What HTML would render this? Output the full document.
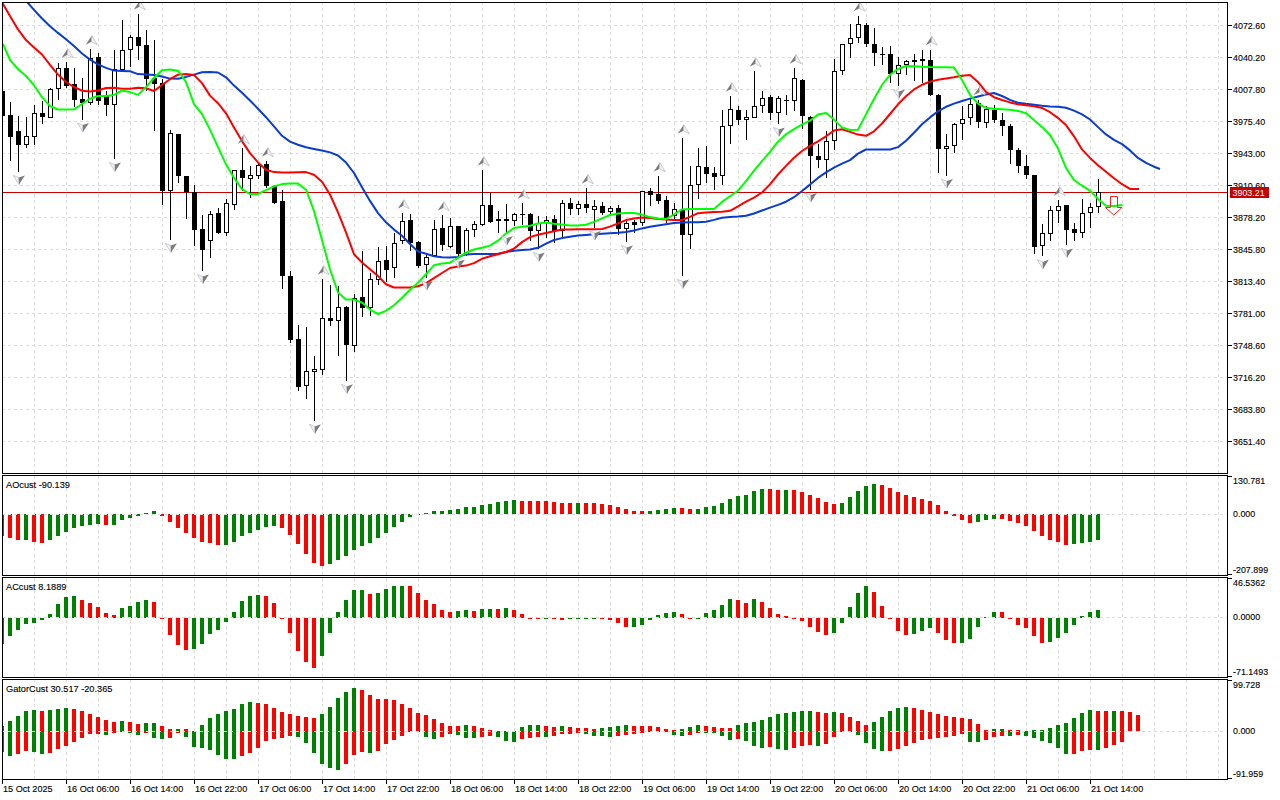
<!DOCTYPE html><html><head><meta charset="utf-8"><title>ETHUSD H1 chart</title>
<style>html,body{margin:0;padding:0;background:#fff;overflow:hidden}svg{display:block}</style></head><body>
<svg width="1280" height="800" viewBox="0 0 1280 800" shape-rendering="crispEdges">
<rect x="0" y="0" width="1280" height="800" fill="#fff"/>
<defs>
<clipPath id="cm"><rect x="3" y="3" width="1224" height="470"/></clipPath>
<clipPath id="c1"><rect x="3" y="476" width="1224" height="99"/></clipPath>
<clipPath id="c2"><rect x="3" y="578" width="1224" height="99"/></clipPath>
<clipPath id="c3"><rect x="3" y="680" width="1224" height="99"/></clipPath>
</defs>
<g stroke="#dcdcdc" stroke-width="1" stroke-dasharray="3 3" fill="none"><path d="M34.5 3V473" stroke-dashoffset="1"/><path d="M34.5 476V575" stroke-dashoffset="0"/><path d="M34.5 578V677" stroke-dashoffset="0"/><path d="M34.5 680V779" stroke-dashoffset="0"/><path d="M66.5 3V473" stroke-dashoffset="1"/><path d="M66.5 476V575" stroke-dashoffset="0"/><path d="M66.5 578V677" stroke-dashoffset="0"/><path d="M66.5 680V779" stroke-dashoffset="0"/><path d="M98.5 3V473" stroke-dashoffset="1"/><path d="M98.5 476V575" stroke-dashoffset="0"/><path d="M98.5 578V677" stroke-dashoffset="0"/><path d="M98.5 680V779" stroke-dashoffset="0"/><path d="M130.5 3V473" stroke-dashoffset="1"/><path d="M130.5 476V575" stroke-dashoffset="0"/><path d="M130.5 578V677" stroke-dashoffset="0"/><path d="M130.5 680V779" stroke-dashoffset="0"/><path d="M162.5 3V473" stroke-dashoffset="1"/><path d="M162.5 476V575" stroke-dashoffset="0"/><path d="M162.5 578V677" stroke-dashoffset="0"/><path d="M162.5 680V779" stroke-dashoffset="0"/><path d="M194.5 3V473" stroke-dashoffset="1"/><path d="M194.5 476V575" stroke-dashoffset="0"/><path d="M194.5 578V677" stroke-dashoffset="0"/><path d="M194.5 680V779" stroke-dashoffset="0"/><path d="M226.5 3V473" stroke-dashoffset="1"/><path d="M226.5 476V575" stroke-dashoffset="0"/><path d="M226.5 578V677" stroke-dashoffset="0"/><path d="M226.5 680V779" stroke-dashoffset="0"/><path d="M258.5 3V473" stroke-dashoffset="1"/><path d="M258.5 476V575" stroke-dashoffset="0"/><path d="M258.5 578V677" stroke-dashoffset="0"/><path d="M258.5 680V779" stroke-dashoffset="0"/><path d="M290.5 3V473" stroke-dashoffset="1"/><path d="M290.5 476V575" stroke-dashoffset="0"/><path d="M290.5 578V677" stroke-dashoffset="0"/><path d="M290.5 680V779" stroke-dashoffset="0"/><path d="M322.5 3V473" stroke-dashoffset="1"/><path d="M322.5 476V575" stroke-dashoffset="0"/><path d="M322.5 578V677" stroke-dashoffset="0"/><path d="M322.5 680V779" stroke-dashoffset="0"/><path d="M354.5 3V473" stroke-dashoffset="1"/><path d="M354.5 476V575" stroke-dashoffset="0"/><path d="M354.5 578V677" stroke-dashoffset="0"/><path d="M354.5 680V779" stroke-dashoffset="0"/><path d="M386.5 3V473" stroke-dashoffset="1"/><path d="M386.5 476V575" stroke-dashoffset="0"/><path d="M386.5 578V677" stroke-dashoffset="0"/><path d="M386.5 680V779" stroke-dashoffset="0"/><path d="M418.5 3V473" stroke-dashoffset="1"/><path d="M418.5 476V575" stroke-dashoffset="0"/><path d="M418.5 578V677" stroke-dashoffset="0"/><path d="M418.5 680V779" stroke-dashoffset="0"/><path d="M450.5 3V473" stroke-dashoffset="1"/><path d="M450.5 476V575" stroke-dashoffset="0"/><path d="M450.5 578V677" stroke-dashoffset="0"/><path d="M450.5 680V779" stroke-dashoffset="0"/><path d="M482.5 3V473" stroke-dashoffset="1"/><path d="M482.5 476V575" stroke-dashoffset="0"/><path d="M482.5 578V677" stroke-dashoffset="0"/><path d="M482.5 680V779" stroke-dashoffset="0"/><path d="M514.5 3V473" stroke-dashoffset="1"/><path d="M514.5 476V575" stroke-dashoffset="0"/><path d="M514.5 578V677" stroke-dashoffset="0"/><path d="M514.5 680V779" stroke-dashoffset="0"/><path d="M546.5 3V473" stroke-dashoffset="1"/><path d="M546.5 476V575" stroke-dashoffset="0"/><path d="M546.5 578V677" stroke-dashoffset="0"/><path d="M546.5 680V779" stroke-dashoffset="0"/><path d="M578.5 3V473" stroke-dashoffset="1"/><path d="M578.5 476V575" stroke-dashoffset="0"/><path d="M578.5 578V677" stroke-dashoffset="0"/><path d="M578.5 680V779" stroke-dashoffset="0"/><path d="M610.5 3V473" stroke-dashoffset="1"/><path d="M610.5 476V575" stroke-dashoffset="0"/><path d="M610.5 578V677" stroke-dashoffset="0"/><path d="M610.5 680V779" stroke-dashoffset="0"/><path d="M642.5 3V473" stroke-dashoffset="1"/><path d="M642.5 476V575" stroke-dashoffset="0"/><path d="M642.5 578V677" stroke-dashoffset="0"/><path d="M642.5 680V779" stroke-dashoffset="0"/><path d="M674.5 3V473" stroke-dashoffset="1"/><path d="M674.5 476V575" stroke-dashoffset="0"/><path d="M674.5 578V677" stroke-dashoffset="0"/><path d="M674.5 680V779" stroke-dashoffset="0"/><path d="M706.5 3V473" stroke-dashoffset="1"/><path d="M706.5 476V575" stroke-dashoffset="0"/><path d="M706.5 578V677" stroke-dashoffset="0"/><path d="M706.5 680V779" stroke-dashoffset="0"/><path d="M738.5 3V473" stroke-dashoffset="1"/><path d="M738.5 476V575" stroke-dashoffset="0"/><path d="M738.5 578V677" stroke-dashoffset="0"/><path d="M738.5 680V779" stroke-dashoffset="0"/><path d="M770.5 3V473" stroke-dashoffset="1"/><path d="M770.5 476V575" stroke-dashoffset="0"/><path d="M770.5 578V677" stroke-dashoffset="0"/><path d="M770.5 680V779" stroke-dashoffset="0"/><path d="M802.5 3V473" stroke-dashoffset="1"/><path d="M802.5 476V575" stroke-dashoffset="0"/><path d="M802.5 578V677" stroke-dashoffset="0"/><path d="M802.5 680V779" stroke-dashoffset="0"/><path d="M834.5 3V473" stroke-dashoffset="1"/><path d="M834.5 476V575" stroke-dashoffset="0"/><path d="M834.5 578V677" stroke-dashoffset="0"/><path d="M834.5 680V779" stroke-dashoffset="0"/><path d="M866.5 3V473" stroke-dashoffset="1"/><path d="M866.5 476V575" stroke-dashoffset="0"/><path d="M866.5 578V677" stroke-dashoffset="0"/><path d="M866.5 680V779" stroke-dashoffset="0"/><path d="M898.5 3V473" stroke-dashoffset="1"/><path d="M898.5 476V575" stroke-dashoffset="0"/><path d="M898.5 578V677" stroke-dashoffset="0"/><path d="M898.5 680V779" stroke-dashoffset="0"/><path d="M930.5 3V473" stroke-dashoffset="1"/><path d="M930.5 476V575" stroke-dashoffset="0"/><path d="M930.5 578V677" stroke-dashoffset="0"/><path d="M930.5 680V779" stroke-dashoffset="0"/><path d="M962.5 3V473" stroke-dashoffset="1"/><path d="M962.5 476V575" stroke-dashoffset="0"/><path d="M962.5 578V677" stroke-dashoffset="0"/><path d="M962.5 680V779" stroke-dashoffset="0"/><path d="M994.5 3V473" stroke-dashoffset="1"/><path d="M994.5 476V575" stroke-dashoffset="0"/><path d="M994.5 578V677" stroke-dashoffset="0"/><path d="M994.5 680V779" stroke-dashoffset="0"/><path d="M1026.5 3V473" stroke-dashoffset="1"/><path d="M1026.5 476V575" stroke-dashoffset="0"/><path d="M1026.5 578V677" stroke-dashoffset="0"/><path d="M1026.5 680V779" stroke-dashoffset="0"/><path d="M1058.5 3V473" stroke-dashoffset="1"/><path d="M1058.5 476V575" stroke-dashoffset="0"/><path d="M1058.5 578V677" stroke-dashoffset="0"/><path d="M1058.5 680V779" stroke-dashoffset="0"/><path d="M1090.5 3V473" stroke-dashoffset="1"/><path d="M1090.5 476V575" stroke-dashoffset="0"/><path d="M1090.5 578V677" stroke-dashoffset="0"/><path d="M1090.5 680V779" stroke-dashoffset="0"/><path d="M1122.5 3V473" stroke-dashoffset="1"/><path d="M1122.5 476V575" stroke-dashoffset="0"/><path d="M1122.5 578V677" stroke-dashoffset="0"/><path d="M1122.5 680V779" stroke-dashoffset="0"/><path d="M1154.5 3V473" stroke-dashoffset="1"/><path d="M1154.5 476V575" stroke-dashoffset="0"/><path d="M1154.5 578V677" stroke-dashoffset="0"/><path d="M1154.5 680V779" stroke-dashoffset="0"/><path d="M1186.5 3V473" stroke-dashoffset="1"/><path d="M1186.5 476V575" stroke-dashoffset="0"/><path d="M1186.5 578V677" stroke-dashoffset="0"/><path d="M1186.5 680V779" stroke-dashoffset="0"/><path d="M1218.5 3V473" stroke-dashoffset="1"/><path d="M1218.5 476V575" stroke-dashoffset="0"/><path d="M1218.5 578V677" stroke-dashoffset="0"/><path d="M1218.5 680V779" stroke-dashoffset="0"/><path d="M3 25.5H1227" stroke-dashoffset="1"/><path d="M3 57.5H1227" stroke-dashoffset="1"/><path d="M3 89.5H1227" stroke-dashoffset="1"/><path d="M3 121.5H1227" stroke-dashoffset="1"/><path d="M3 153.5H1227" stroke-dashoffset="1"/><path d="M3 185.5H1227" stroke-dashoffset="1"/><path d="M3 217.5H1227" stroke-dashoffset="1"/><path d="M3 249.5H1227" stroke-dashoffset="1"/><path d="M3 281.5H1227" stroke-dashoffset="1"/><path d="M3 313.5H1227" stroke-dashoffset="1"/><path d="M3 345.5H1227" stroke-dashoffset="1"/><path d="M3 377.5H1227" stroke-dashoffset="1"/><path d="M3 409.5H1227" stroke-dashoffset="1"/><path d="M3 441.5H1227" stroke-dashoffset="1"/></g>
<g clip-path="url(#c1)"><rect x="0" y="514" width="4" height="22" fill="#ff0000"/><rect x="8" y="514" width="4" height="24" fill="#ff0000"/><rect x="16" y="514" width="4" height="26" fill="#ff0000"/><rect x="24" y="514" width="4" height="26" fill="#008000"/><rect x="32" y="514" width="4" height="28" fill="#ff0000"/><rect x="40" y="514" width="4" height="29" fill="#ff0000"/><rect x="48" y="514" width="4" height="26" fill="#008000"/><rect x="56" y="514" width="4" height="22" fill="#008000"/><rect x="64" y="514" width="4" height="18" fill="#008000"/><rect x="72" y="514" width="4" height="14" fill="#008000"/><rect x="80" y="514" width="4" height="12" fill="#008000"/><rect x="88" y="514" width="4" height="11" fill="#008000"/><rect x="96" y="514" width="4" height="10" fill="#008000"/><rect x="104" y="514" width="4" height="11" fill="#ff0000"/><rect x="112" y="514" width="4" height="11" fill="#008000"/><rect x="120" y="514" width="4" height="6" fill="#008000"/><rect x="128" y="514" width="4" height="4" fill="#008000"/><rect x="136" y="514" width="4" height="2" fill="#008000"/><rect x="144" y="513" width="4" height="1" fill="#008000"/><rect x="152" y="511" width="4" height="3" fill="#008000"/><rect x="160" y="514" width="4" height="2" fill="#ff0000"/><rect x="168" y="514" width="4" height="8" fill="#ff0000"/><rect x="176" y="514" width="4" height="14" fill="#ff0000"/><rect x="184" y="514" width="4" height="19" fill="#ff0000"/><rect x="192" y="514" width="4" height="24" fill="#ff0000"/><rect x="200" y="514" width="4" height="28" fill="#ff0000"/><rect x="208" y="514" width="4" height="29" fill="#ff0000"/><rect x="216" y="514" width="4" height="31" fill="#ff0000"/><rect x="224" y="514" width="4" height="31" fill="#008000"/><rect x="232" y="514" width="4" height="28" fill="#008000"/><rect x="240" y="514" width="4" height="22" fill="#008000"/><rect x="248" y="514" width="4" height="19" fill="#008000"/><rect x="256" y="514" width="4" height="16" fill="#008000"/><rect x="264" y="514" width="4" height="13" fill="#008000"/><rect x="272" y="514" width="4" height="12" fill="#008000"/><rect x="280" y="514" width="4" height="14" fill="#ff0000"/><rect x="288" y="514" width="4" height="21" fill="#ff0000"/><rect x="296" y="514" width="4" height="30" fill="#ff0000"/><rect x="304" y="514" width="4" height="40" fill="#ff0000"/><rect x="312" y="514" width="4" height="49" fill="#ff0000"/><rect x="320" y="514" width="4" height="52" fill="#ff0000"/><rect x="328" y="514" width="4" height="50" fill="#008000"/><rect x="336" y="514" width="4" height="46" fill="#008000"/><rect x="344" y="514" width="4" height="42" fill="#008000"/><rect x="352" y="514" width="4" height="36" fill="#008000"/><rect x="360" y="514" width="4" height="32" fill="#008000"/><rect x="368" y="514" width="4" height="29" fill="#008000"/><rect x="376" y="514" width="4" height="24" fill="#008000"/><rect x="384" y="514" width="4" height="19" fill="#008000"/><rect x="392" y="514" width="4" height="13" fill="#008000"/><rect x="400" y="514" width="4" height="8" fill="#008000"/><rect x="408" y="514" width="4" height="3" fill="#008000"/><rect x="416" y="514" width="4" height="1" fill="#008000"/><rect x="424" y="513" width="4" height="1" fill="#008000"/><rect x="432" y="511" width="4" height="3" fill="#008000"/><rect x="440" y="511" width="4" height="3" fill="#008000"/><rect x="448" y="510" width="4" height="4" fill="#008000"/><rect x="456" y="509" width="4" height="5" fill="#008000"/><rect x="464" y="507" width="4" height="7" fill="#008000"/><rect x="472" y="507" width="4" height="7" fill="#008000"/><rect x="480" y="505" width="4" height="9" fill="#008000"/><rect x="488" y="504" width="4" height="10" fill="#008000"/><rect x="496" y="502" width="4" height="12" fill="#008000"/><rect x="504" y="501" width="4" height="13" fill="#008000"/><rect x="512" y="500" width="4" height="14" fill="#008000"/><rect x="520" y="501" width="4" height="13" fill="#ff0000"/><rect x="528" y="501" width="4" height="13" fill="#ff0000"/><rect x="536" y="501" width="4" height="13" fill="#ff0000"/><rect x="544" y="501" width="4" height="13" fill="#ff0000"/><rect x="552" y="502" width="4" height="12" fill="#ff0000"/><rect x="560" y="503" width="4" height="11" fill="#ff0000"/><rect x="568" y="503" width="4" height="11" fill="#ff0000"/><rect x="576" y="503" width="4" height="11" fill="#008000"/><rect x="584" y="503" width="4" height="11" fill="#ff0000"/><rect x="592" y="503" width="4" height="11" fill="#ff0000"/><rect x="600" y="504" width="4" height="10" fill="#ff0000"/><rect x="608" y="505" width="4" height="9" fill="#ff0000"/><rect x="616" y="507" width="4" height="7" fill="#ff0000"/><rect x="624" y="509" width="4" height="5" fill="#ff0000"/><rect x="632" y="511" width="4" height="3" fill="#ff0000"/><rect x="640" y="511" width="4" height="3" fill="#ff0000"/><rect x="648" y="511" width="4" height="3" fill="#008000"/><rect x="656" y="510" width="4" height="4" fill="#008000"/><rect x="664" y="509" width="4" height="5" fill="#008000"/><rect x="672" y="508" width="4" height="6" fill="#008000"/><rect x="680" y="508" width="4" height="6" fill="#ff0000"/><rect x="688" y="509" width="4" height="5" fill="#ff0000"/><rect x="696" y="509" width="4" height="5" fill="#008000"/><rect x="704" y="507" width="4" height="7" fill="#008000"/><rect x="712" y="506" width="4" height="8" fill="#008000"/><rect x="720" y="503" width="4" height="11" fill="#008000"/><rect x="728" y="499" width="4" height="15" fill="#008000"/><rect x="736" y="496" width="4" height="18" fill="#008000"/><rect x="744" y="495" width="4" height="19" fill="#008000"/><rect x="752" y="491" width="4" height="23" fill="#008000"/><rect x="760" y="489" width="4" height="25" fill="#008000"/><rect x="768" y="489" width="4" height="25" fill="#ff0000"/><rect x="776" y="490" width="4" height="24" fill="#ff0000"/><rect x="784" y="490" width="4" height="24" fill="#008000"/><rect x="792" y="490" width="4" height="24" fill="#ff0000"/><rect x="800" y="492" width="4" height="22" fill="#ff0000"/><rect x="808" y="495" width="4" height="19" fill="#ff0000"/><rect x="816" y="498" width="4" height="16" fill="#ff0000"/><rect x="824" y="502" width="4" height="12" fill="#ff0000"/><rect x="832" y="504" width="4" height="10" fill="#ff0000"/><rect x="840" y="503" width="4" height="11" fill="#008000"/><rect x="848" y="497" width="4" height="17" fill="#008000"/><rect x="856" y="491" width="4" height="23" fill="#008000"/><rect x="864" y="486" width="4" height="28" fill="#008000"/><rect x="872" y="484" width="4" height="30" fill="#008000"/><rect x="880" y="485" width="4" height="29" fill="#ff0000"/><rect x="888" y="488" width="4" height="26" fill="#ff0000"/><rect x="896" y="492" width="4" height="22" fill="#ff0000"/><rect x="904" y="495" width="4" height="19" fill="#ff0000"/><rect x="912" y="497" width="4" height="17" fill="#ff0000"/><rect x="920" y="499" width="4" height="15" fill="#ff0000"/><rect x="928" y="501" width="4" height="13" fill="#ff0000"/><rect x="936" y="505" width="4" height="9" fill="#ff0000"/><rect x="944" y="511" width="4" height="3" fill="#ff0000"/><rect x="952" y="514" width="4" height="2" fill="#ff0000"/><rect x="960" y="514" width="4" height="6" fill="#ff0000"/><rect x="968" y="514" width="4" height="9" fill="#ff0000"/><rect x="976" y="514" width="4" height="8" fill="#008000"/><rect x="984" y="514" width="4" height="6" fill="#008000"/><rect x="992" y="514" width="4" height="5" fill="#008000"/><rect x="1000" y="514" width="4" height="5" fill="#ff0000"/><rect x="1008" y="514" width="4" height="7" fill="#ff0000"/><rect x="1016" y="514" width="4" height="9" fill="#ff0000"/><rect x="1024" y="514" width="4" height="12" fill="#ff0000"/><rect x="1032" y="514" width="4" height="17" fill="#ff0000"/><rect x="1040" y="514" width="4" height="22" fill="#ff0000"/><rect x="1048" y="514" width="4" height="26" fill="#ff0000"/><rect x="1056" y="514" width="4" height="28" fill="#ff0000"/><rect x="1064" y="514" width="4" height="31" fill="#ff0000"/><rect x="1072" y="514" width="4" height="30" fill="#008000"/><rect x="1080" y="514" width="4" height="29" fill="#008000"/><rect x="1088" y="514" width="4" height="28" fill="#008000"/><rect x="1096" y="514" width="4" height="26" fill="#008000"/></g>
<g clip-path="url(#c2)"><rect x="0" y="618" width="4" height="26" fill="#008000"/><rect x="8" y="618" width="4" height="18" fill="#008000"/><rect x="16" y="618" width="4" height="12" fill="#008000"/><rect x="24" y="618" width="4" height="6" fill="#008000"/><rect x="32" y="618" width="4" height="5" fill="#008000"/><rect x="40" y="618" width="4" height="2" fill="#008000"/><rect x="48" y="614" width="4" height="4" fill="#008000"/><rect x="56" y="604" width="4" height="14" fill="#008000"/><rect x="64" y="597" width="4" height="21" fill="#008000"/><rect x="72" y="596" width="4" height="22" fill="#008000"/><rect x="80" y="600" width="4" height="18" fill="#ff0000"/><rect x="88" y="603" width="4" height="15" fill="#ff0000"/><rect x="96" y="607" width="4" height="11" fill="#ff0000"/><rect x="104" y="613" width="4" height="5" fill="#ff0000"/><rect x="112" y="615" width="4" height="3" fill="#ff0000"/><rect x="120" y="608" width="4" height="10" fill="#008000"/><rect x="128" y="606" width="4" height="12" fill="#008000"/><rect x="136" y="602" width="4" height="16" fill="#008000"/><rect x="144" y="600" width="4" height="18" fill="#008000"/><rect x="152" y="602" width="4" height="16" fill="#ff0000"/><rect x="160" y="618" width="4" height="1" fill="#ff0000"/><rect x="168" y="618" width="4" height="17" fill="#ff0000"/><rect x="176" y="618" width="4" height="27" fill="#ff0000"/><rect x="184" y="618" width="4" height="32" fill="#ff0000"/><rect x="192" y="618" width="4" height="31" fill="#008000"/><rect x="200" y="618" width="4" height="26" fill="#008000"/><rect x="208" y="618" width="4" height="16" fill="#008000"/><rect x="216" y="618" width="4" height="12" fill="#008000"/><rect x="224" y="618" width="4" height="4" fill="#008000"/><rect x="232" y="612" width="4" height="6" fill="#008000"/><rect x="240" y="601" width="4" height="17" fill="#008000"/><rect x="248" y="596" width="4" height="22" fill="#008000"/><rect x="256" y="595" width="4" height="23" fill="#008000"/><rect x="264" y="596" width="4" height="22" fill="#ff0000"/><rect x="272" y="603" width="4" height="15" fill="#ff0000"/><rect x="280" y="618" width="4" height="1" fill="#ff0000"/><rect x="288" y="618" width="4" height="15" fill="#ff0000"/><rect x="296" y="618" width="4" height="33" fill="#ff0000"/><rect x="304" y="618" width="4" height="44" fill="#ff0000"/><rect x="312" y="618" width="4" height="50" fill="#ff0000"/><rect x="320" y="618" width="4" height="38" fill="#008000"/><rect x="328" y="618" width="4" height="15" fill="#008000"/><rect x="336" y="612" width="4" height="6" fill="#008000"/><rect x="344" y="600" width="4" height="18" fill="#008000"/><rect x="352" y="590" width="4" height="28" fill="#008000"/><rect x="360" y="590" width="4" height="28" fill="#008000"/><rect x="368" y="594" width="4" height="24" fill="#ff0000"/><rect x="376" y="593" width="4" height="25" fill="#008000"/><rect x="384" y="589" width="4" height="29" fill="#008000"/><rect x="392" y="586" width="4" height="32" fill="#008000"/><rect x="400" y="586" width="4" height="32" fill="#008000"/><rect x="408" y="586" width="4" height="32" fill="#ff0000"/><rect x="416" y="593" width="4" height="25" fill="#ff0000"/><rect x="424" y="600" width="4" height="18" fill="#ff0000"/><rect x="432" y="604" width="4" height="14" fill="#ff0000"/><rect x="440" y="610" width="4" height="8" fill="#ff0000"/><rect x="448" y="612" width="4" height="6" fill="#ff0000"/><rect x="456" y="611" width="4" height="7" fill="#008000"/><rect x="464" y="610" width="4" height="8" fill="#008000"/><rect x="472" y="611" width="4" height="7" fill="#ff0000"/><rect x="480" y="609" width="4" height="9" fill="#008000"/><rect x="488" y="609" width="4" height="9" fill="#008000"/><rect x="496" y="609" width="4" height="9" fill="#ff0000"/><rect x="504" y="608" width="4" height="10" fill="#008000"/><rect x="512" y="610" width="4" height="8" fill="#ff0000"/><rect x="520" y="614" width="4" height="4" fill="#ff0000"/><rect x="528" y="618" width="4" height="1" fill="#ff0000"/><rect x="536" y="618" width="4" height="1" fill="#ff0000"/><rect x="544" y="618" width="4" height="1" fill="#008000"/><rect x="552" y="618" width="4" height="1" fill="#ff0000"/><rect x="560" y="618" width="4" height="2" fill="#ff0000"/><rect x="568" y="618" width="4" height="1" fill="#008000"/><rect x="576" y="618" width="4" height="1" fill="#008000"/><rect x="584" y="618" width="4" height="1" fill="#008000"/><rect x="592" y="618" width="4" height="1" fill="#008000"/><rect x="600" y="618" width="4" height="1" fill="#ff0000"/><rect x="608" y="618" width="4" height="2" fill="#ff0000"/><rect x="616" y="618" width="4" height="5" fill="#ff0000"/><rect x="624" y="618" width="4" height="9" fill="#ff0000"/><rect x="632" y="618" width="4" height="9" fill="#008000"/><rect x="640" y="618" width="4" height="7" fill="#008000"/><rect x="648" y="618" width="4" height="2" fill="#008000"/><rect x="656" y="615" width="4" height="3" fill="#008000"/><rect x="664" y="613" width="4" height="5" fill="#008000"/><rect x="672" y="612" width="4" height="6" fill="#008000"/><rect x="680" y="614" width="4" height="4" fill="#ff0000"/><rect x="688" y="618" width="4" height="1" fill="#ff0000"/><rect x="696" y="618" width="4" height="1" fill="#008000"/><rect x="704" y="613" width="4" height="5" fill="#008000"/><rect x="712" y="610" width="4" height="8" fill="#008000"/><rect x="720" y="605" width="4" height="13" fill="#008000"/><rect x="728" y="599" width="4" height="19" fill="#008000"/><rect x="736" y="600" width="4" height="18" fill="#ff0000"/><rect x="744" y="603" width="4" height="15" fill="#ff0000"/><rect x="752" y="599" width="4" height="19" fill="#008000"/><rect x="760" y="602" width="4" height="16" fill="#ff0000"/><rect x="768" y="608" width="4" height="10" fill="#ff0000"/><rect x="776" y="614" width="4" height="4" fill="#ff0000"/><rect x="784" y="616" width="4" height="2" fill="#ff0000"/><rect x="792" y="618" width="4" height="1" fill="#ff0000"/><rect x="800" y="618" width="4" height="3" fill="#ff0000"/><rect x="808" y="618" width="4" height="9" fill="#ff0000"/><rect x="816" y="618" width="4" height="14" fill="#ff0000"/><rect x="824" y="618" width="4" height="17" fill="#ff0000"/><rect x="832" y="618" width="4" height="15" fill="#008000"/><rect x="840" y="618" width="4" height="5" fill="#008000"/><rect x="848" y="607" width="4" height="11" fill="#008000"/><rect x="856" y="593" width="4" height="25" fill="#008000"/><rect x="864" y="586" width="4" height="32" fill="#008000"/><rect x="872" y="592" width="4" height="26" fill="#ff0000"/><rect x="880" y="606" width="4" height="12" fill="#ff0000"/><rect x="888" y="618" width="4" height="1" fill="#ff0000"/><rect x="896" y="618" width="4" height="13" fill="#ff0000"/><rect x="904" y="618" width="4" height="17" fill="#ff0000"/><rect x="912" y="618" width="4" height="16" fill="#008000"/><rect x="920" y="618" width="4" height="13" fill="#008000"/><rect x="928" y="618" width="4" height="10" fill="#008000"/><rect x="936" y="618" width="4" height="15" fill="#ff0000"/><rect x="944" y="618" width="4" height="22" fill="#ff0000"/><rect x="952" y="618" width="4" height="25" fill="#ff0000"/><rect x="960" y="618" width="4" height="25" fill="#008000"/><rect x="968" y="618" width="4" height="21" fill="#008000"/><rect x="976" y="618" width="4" height="9" fill="#008000"/><rect x="984" y="617" width="4" height="1" fill="#008000"/><rect x="992" y="612" width="4" height="6" fill="#008000"/><rect x="1000" y="612" width="4" height="6" fill="#ff0000"/><rect x="1008" y="618" width="4" height="1" fill="#ff0000"/><rect x="1016" y="618" width="4" height="7" fill="#ff0000"/><rect x="1024" y="618" width="4" height="10" fill="#ff0000"/><rect x="1032" y="618" width="4" height="18" fill="#ff0000"/><rect x="1040" y="618" width="4" height="25" fill="#ff0000"/><rect x="1048" y="618" width="4" height="24" fill="#008000"/><rect x="1056" y="618" width="4" height="20" fill="#008000"/><rect x="1064" y="618" width="4" height="15" fill="#008000"/><rect x="1072" y="618" width="4" height="7" fill="#008000"/><rect x="1080" y="616" width="4" height="2" fill="#008000"/><rect x="1088" y="612" width="4" height="6" fill="#008000"/><rect x="1096" y="610" width="4" height="8" fill="#008000"/></g>
<g clip-path="url(#c3)"><rect x="0" y="726" width="4" height="5" fill="#008000"/><rect x="0" y="731" width="4" height="21" fill="#008000"/><rect x="8" y="721" width="4" height="10" fill="#008000"/><rect x="8" y="731" width="4" height="25" fill="#008000"/><rect x="16" y="716" width="4" height="15" fill="#008000"/><rect x="16" y="731" width="4" height="23" fill="#ff0000"/><rect x="24" y="711" width="4" height="20" fill="#008000"/><rect x="24" y="731" width="4" height="20" fill="#ff0000"/><rect x="32" y="710" width="4" height="21" fill="#008000"/><rect x="32" y="731" width="4" height="21" fill="#008000"/><rect x="40" y="711" width="4" height="20" fill="#ff0000"/><rect x="40" y="731" width="4" height="23" fill="#008000"/><rect x="48" y="710" width="4" height="21" fill="#008000"/><rect x="48" y="731" width="4" height="22" fill="#ff0000"/><rect x="56" y="709" width="4" height="22" fill="#008000"/><rect x="56" y="731" width="4" height="18" fill="#ff0000"/><rect x="64" y="708" width="4" height="23" fill="#008000"/><rect x="64" y="731" width="4" height="15" fill="#ff0000"/><rect x="72" y="709" width="4" height="22" fill="#ff0000"/><rect x="72" y="731" width="4" height="11" fill="#ff0000"/><rect x="80" y="711" width="4" height="20" fill="#ff0000"/><rect x="80" y="731" width="4" height="7" fill="#ff0000"/><rect x="88" y="714" width="4" height="17" fill="#ff0000"/><rect x="88" y="731" width="4" height="3" fill="#ff0000"/><rect x="96" y="717" width="4" height="14" fill="#ff0000"/><rect x="96" y="731" width="4" height="3" fill="#ff0000"/><rect x="104" y="720" width="4" height="11" fill="#ff0000"/><rect x="104" y="731" width="4" height="4" fill="#008000"/><rect x="112" y="722" width="4" height="9" fill="#ff0000"/><rect x="112" y="731" width="4" height="2" fill="#ff0000"/><rect x="120" y="721" width="4" height="10" fill="#008000"/><rect x="120" y="731" width="4" height="1" fill="#ff0000"/><rect x="128" y="722" width="4" height="9" fill="#ff0000"/><rect x="128" y="731" width="4" height="2" fill="#008000"/><rect x="136" y="724" width="4" height="7" fill="#ff0000"/><rect x="136" y="731" width="4" height="4" fill="#008000"/><rect x="144" y="723" width="4" height="8" fill="#008000"/><rect x="144" y="731" width="4" height="2" fill="#ff0000"/><rect x="152" y="723" width="4" height="8" fill="#008000"/><rect x="152" y="731" width="4" height="7" fill="#008000"/><rect x="160" y="726" width="4" height="5" fill="#ff0000"/><rect x="160" y="731" width="4" height="8" fill="#008000"/><rect x="168" y="729" width="4" height="2" fill="#ff0000"/><rect x="168" y="731" width="4" height="7" fill="#ff0000"/><rect x="176" y="729" width="4" height="2" fill="#008000"/><rect x="176" y="731" width="4" height="2" fill="#ff0000"/><rect x="184" y="729" width="4" height="2" fill="#ff0000"/><rect x="184" y="731" width="4" height="6" fill="#008000"/><rect x="192" y="731" width="4" height="16" fill="#008000"/><rect x="200" y="725" width="4" height="6" fill="#008000"/><rect x="200" y="731" width="4" height="17" fill="#008000"/><rect x="208" y="718" width="4" height="13" fill="#008000"/><rect x="208" y="731" width="4" height="19" fill="#008000"/><rect x="216" y="714" width="4" height="17" fill="#008000"/><rect x="216" y="731" width="4" height="24" fill="#008000"/><rect x="224" y="711" width="4" height="20" fill="#008000"/><rect x="224" y="731" width="4" height="28" fill="#008000"/><rect x="232" y="709" width="4" height="22" fill="#008000"/><rect x="232" y="731" width="4" height="28" fill="#008000"/><rect x="240" y="704" width="4" height="27" fill="#008000"/><rect x="240" y="731" width="4" height="25" fill="#ff0000"/><rect x="248" y="702" width="4" height="29" fill="#008000"/><rect x="248" y="731" width="4" height="22" fill="#ff0000"/><rect x="256" y="703" width="4" height="28" fill="#ff0000"/><rect x="256" y="731" width="4" height="17" fill="#ff0000"/><rect x="264" y="704" width="4" height="27" fill="#ff0000"/><rect x="264" y="731" width="4" height="10" fill="#ff0000"/><rect x="272" y="708" width="4" height="23" fill="#ff0000"/><rect x="272" y="731" width="4" height="8" fill="#ff0000"/><rect x="280" y="712" width="4" height="19" fill="#ff0000"/><rect x="280" y="731" width="4" height="7" fill="#ff0000"/><rect x="288" y="714" width="4" height="17" fill="#ff0000"/><rect x="288" y="731" width="4" height="5" fill="#ff0000"/><rect x="296" y="716" width="4" height="15" fill="#ff0000"/><rect x="296" y="731" width="4" height="6" fill="#008000"/><rect x="304" y="717" width="4" height="14" fill="#ff0000"/><rect x="304" y="731" width="4" height="12" fill="#008000"/><rect x="312" y="718" width="4" height="13" fill="#ff0000"/><rect x="312" y="731" width="4" height="22" fill="#008000"/><rect x="320" y="714" width="4" height="17" fill="#008000"/><rect x="320" y="731" width="4" height="33" fill="#008000"/><rect x="328" y="707" width="4" height="24" fill="#008000"/><rect x="328" y="731" width="4" height="37" fill="#008000"/><rect x="336" y="698" width="4" height="33" fill="#008000"/><rect x="336" y="731" width="4" height="39" fill="#008000"/><rect x="344" y="692" width="4" height="39" fill="#008000"/><rect x="344" y="731" width="4" height="33" fill="#ff0000"/><rect x="352" y="688" width="4" height="43" fill="#008000"/><rect x="352" y="731" width="4" height="24" fill="#ff0000"/><rect x="360" y="690" width="4" height="41" fill="#ff0000"/><rect x="360" y="731" width="4" height="21" fill="#ff0000"/><rect x="368" y="695" width="4" height="36" fill="#ff0000"/><rect x="368" y="731" width="4" height="22" fill="#008000"/><rect x="376" y="699" width="4" height="32" fill="#ff0000"/><rect x="376" y="731" width="4" height="20" fill="#ff0000"/><rect x="384" y="699" width="4" height="32" fill="#ff0000"/><rect x="384" y="731" width="4" height="13" fill="#ff0000"/><rect x="392" y="700" width="4" height="31" fill="#ff0000"/><rect x="392" y="731" width="4" height="9" fill="#ff0000"/><rect x="400" y="704" width="4" height="27" fill="#ff0000"/><rect x="400" y="731" width="4" height="5" fill="#ff0000"/><rect x="408" y="708" width="4" height="23" fill="#ff0000"/><rect x="408" y="731" width="4" height="1" fill="#ff0000"/><rect x="416" y="713" width="4" height="18" fill="#ff0000"/><rect x="416" y="731" width="4" height="1" fill="#008000"/><rect x="424" y="715" width="4" height="16" fill="#ff0000"/><rect x="424" y="731" width="4" height="6" fill="#008000"/><rect x="432" y="719" width="4" height="12" fill="#ff0000"/><rect x="432" y="731" width="4" height="8" fill="#008000"/><rect x="440" y="723" width="4" height="8" fill="#ff0000"/><rect x="440" y="731" width="4" height="6" fill="#ff0000"/><rect x="448" y="726" width="4" height="5" fill="#ff0000"/><rect x="448" y="731" width="4" height="3" fill="#ff0000"/><rect x="456" y="726" width="4" height="5" fill="#ff0000"/><rect x="456" y="731" width="4" height="4" fill="#008000"/><rect x="464" y="725" width="4" height="6" fill="#008000"/><rect x="464" y="731" width="4" height="7" fill="#008000"/><rect x="472" y="726" width="4" height="5" fill="#ff0000"/><rect x="472" y="731" width="4" height="7" fill="#008000"/><rect x="480" y="728" width="4" height="3" fill="#ff0000"/><rect x="480" y="731" width="4" height="6" fill="#ff0000"/><rect x="488" y="730" width="4" height="1" fill="#ff0000"/><rect x="488" y="731" width="4" height="5" fill="#ff0000"/><rect x="496" y="731" width="4" height="6" fill="#008000"/><rect x="504" y="731" width="4" height="10" fill="#008000"/><rect x="512" y="731" width="4" height="11" fill="#008000"/><rect x="520" y="727" width="4" height="4" fill="#008000"/><rect x="520" y="731" width="4" height="8" fill="#ff0000"/><rect x="528" y="725" width="4" height="6" fill="#008000"/><rect x="528" y="731" width="4" height="7" fill="#ff0000"/><rect x="536" y="725" width="4" height="6" fill="#008000"/><rect x="536" y="731" width="4" height="6" fill="#ff0000"/><rect x="544" y="726" width="4" height="5" fill="#ff0000"/><rect x="544" y="731" width="4" height="6" fill="#008000"/><rect x="552" y="727" width="4" height="4" fill="#ff0000"/><rect x="552" y="731" width="4" height="5" fill="#ff0000"/><rect x="560" y="726" width="4" height="5" fill="#008000"/><rect x="560" y="731" width="4" height="3" fill="#ff0000"/><rect x="568" y="727" width="4" height="4" fill="#ff0000"/><rect x="568" y="731" width="4" height="3" fill="#ff0000"/><rect x="576" y="728" width="4" height="3" fill="#ff0000"/><rect x="576" y="731" width="4" height="2" fill="#ff0000"/><rect x="584" y="728" width="4" height="3" fill="#ff0000"/><rect x="584" y="731" width="4" height="3" fill="#008000"/><rect x="592" y="729" width="4" height="2" fill="#ff0000"/><rect x="592" y="731" width="4" height="5" fill="#008000"/><rect x="600" y="728" width="4" height="3" fill="#008000"/><rect x="600" y="731" width="4" height="5" fill="#008000"/><rect x="608" y="727" width="4" height="4" fill="#008000"/><rect x="608" y="731" width="4" height="6" fill="#008000"/><rect x="616" y="726" width="4" height="5" fill="#008000"/><rect x="616" y="731" width="4" height="5" fill="#ff0000"/><rect x="624" y="725" width="4" height="6" fill="#008000"/><rect x="624" y="731" width="4" height="4" fill="#ff0000"/><rect x="632" y="726" width="4" height="5" fill="#ff0000"/><rect x="632" y="731" width="4" height="3" fill="#ff0000"/><rect x="640" y="726" width="4" height="5" fill="#ff0000"/><rect x="640" y="731" width="4" height="2" fill="#ff0000"/><rect x="648" y="726" width="4" height="5" fill="#ff0000"/><rect x="648" y="731" width="4" height="1" fill="#ff0000"/><rect x="656" y="727" width="4" height="4" fill="#ff0000"/><rect x="656" y="731" width="4" height="1" fill="#008000"/><rect x="664" y="729" width="4" height="2" fill="#ff0000"/><rect x="664" y="731" width="4" height="1" fill="#008000"/><rect x="672" y="730" width="4" height="1" fill="#ff0000"/><rect x="672" y="731" width="4" height="4" fill="#008000"/><rect x="680" y="729" width="4" height="2" fill="#008000"/><rect x="680" y="731" width="4" height="5" fill="#008000"/><rect x="688" y="727" width="4" height="4" fill="#008000"/><rect x="688" y="731" width="4" height="4" fill="#ff0000"/><rect x="696" y="725" width="4" height="6" fill="#008000"/><rect x="696" y="731" width="4" height="2" fill="#ff0000"/><rect x="704" y="726" width="4" height="5" fill="#ff0000"/><rect x="704" y="731" width="4" height="2" fill="#008000"/><rect x="712" y="727" width="4" height="4" fill="#ff0000"/><rect x="712" y="731" width="4" height="2" fill="#008000"/><rect x="720" y="728" width="4" height="3" fill="#ff0000"/><rect x="720" y="731" width="4" height="5" fill="#008000"/><rect x="728" y="728" width="4" height="3" fill="#ff0000"/><rect x="728" y="731" width="4" height="9" fill="#008000"/><rect x="736" y="725" width="4" height="6" fill="#008000"/><rect x="736" y="731" width="4" height="8" fill="#ff0000"/><rect x="744" y="723" width="4" height="8" fill="#008000"/><rect x="744" y="731" width="4" height="10" fill="#008000"/><rect x="752" y="722" width="4" height="9" fill="#008000"/><rect x="752" y="731" width="4" height="15" fill="#008000"/><rect x="760" y="720" width="4" height="11" fill="#008000"/><rect x="760" y="731" width="4" height="17" fill="#008000"/><rect x="768" y="717" width="4" height="14" fill="#008000"/><rect x="768" y="731" width="4" height="16" fill="#ff0000"/><rect x="776" y="714" width="4" height="17" fill="#008000"/><rect x="776" y="731" width="4" height="18" fill="#008000"/><rect x="784" y="713" width="4" height="18" fill="#008000"/><rect x="784" y="731" width="4" height="19" fill="#008000"/><rect x="792" y="712" width="4" height="19" fill="#008000"/><rect x="792" y="731" width="4" height="17" fill="#ff0000"/><rect x="800" y="711" width="4" height="20" fill="#008000"/><rect x="800" y="731" width="4" height="15" fill="#ff0000"/><rect x="808" y="711" width="4" height="20" fill="#008000"/><rect x="808" y="731" width="4" height="14" fill="#ff0000"/><rect x="816" y="712" width="4" height="19" fill="#ff0000"/><rect x="816" y="731" width="4" height="15" fill="#008000"/><rect x="824" y="713" width="4" height="18" fill="#ff0000"/><rect x="824" y="731" width="4" height="13" fill="#ff0000"/><rect x="832" y="712" width="4" height="19" fill="#008000"/><rect x="832" y="731" width="4" height="6" fill="#ff0000"/><rect x="840" y="713" width="4" height="18" fill="#ff0000"/><rect x="840" y="731" width="4" height="1" fill="#ff0000"/><rect x="848" y="717" width="4" height="14" fill="#ff0000"/><rect x="848" y="731" width="4" height="1" fill="#008000"/><rect x="856" y="721" width="4" height="10" fill="#ff0000"/><rect x="856" y="731" width="4" height="4" fill="#008000"/><rect x="864" y="725" width="4" height="6" fill="#ff0000"/><rect x="864" y="731" width="4" height="12" fill="#008000"/><rect x="872" y="722" width="4" height="9" fill="#008000"/><rect x="872" y="731" width="4" height="18" fill="#008000"/><rect x="880" y="717" width="4" height="14" fill="#008000"/><rect x="880" y="731" width="4" height="20" fill="#008000"/><rect x="888" y="711" width="4" height="20" fill="#008000"/><rect x="888" y="731" width="4" height="20" fill="#ff0000"/><rect x="896" y="708" width="4" height="23" fill="#008000"/><rect x="896" y="731" width="4" height="18" fill="#ff0000"/><rect x="904" y="707" width="4" height="24" fill="#008000"/><rect x="904" y="731" width="4" height="15" fill="#ff0000"/><rect x="912" y="708" width="4" height="23" fill="#ff0000"/><rect x="912" y="731" width="4" height="12" fill="#ff0000"/><rect x="920" y="710" width="4" height="21" fill="#ff0000"/><rect x="920" y="731" width="4" height="9" fill="#ff0000"/><rect x="928" y="712" width="4" height="19" fill="#ff0000"/><rect x="928" y="731" width="4" height="8" fill="#ff0000"/><rect x="936" y="714" width="4" height="17" fill="#ff0000"/><rect x="936" y="731" width="4" height="7" fill="#ff0000"/><rect x="944" y="716" width="4" height="15" fill="#ff0000"/><rect x="944" y="731" width="4" height="6" fill="#ff0000"/><rect x="952" y="717" width="4" height="14" fill="#ff0000"/><rect x="952" y="731" width="4" height="5" fill="#ff0000"/><rect x="960" y="718" width="4" height="13" fill="#ff0000"/><rect x="960" y="731" width="4" height="3" fill="#ff0000"/><rect x="968" y="719" width="4" height="12" fill="#ff0000"/><rect x="968" y="731" width="4" height="11" fill="#008000"/><rect x="976" y="724" width="4" height="7" fill="#ff0000"/><rect x="976" y="731" width="4" height="11" fill="#008000"/><rect x="984" y="730" width="4" height="1" fill="#ff0000"/><rect x="984" y="731" width="4" height="9" fill="#ff0000"/><rect x="992" y="729" width="4" height="2" fill="#008000"/><rect x="992" y="731" width="4" height="6" fill="#ff0000"/><rect x="1000" y="729" width="4" height="2" fill="#008000"/><rect x="1000" y="731" width="4" height="5" fill="#ff0000"/><rect x="1008" y="730" width="4" height="1" fill="#ff0000"/><rect x="1008" y="731" width="4" height="5" fill="#008000"/><rect x="1016" y="730" width="4" height="1" fill="#ff0000"/><rect x="1016" y="731" width="4" height="4" fill="#ff0000"/><rect x="1024" y="731" width="4" height="5" fill="#008000"/><rect x="1032" y="730" width="4" height="1" fill="#008000"/><rect x="1032" y="731" width="4" height="7" fill="#008000"/><rect x="1040" y="730" width="4" height="1" fill="#008000"/><rect x="1040" y="731" width="4" height="10" fill="#008000"/><rect x="1048" y="728" width="4" height="3" fill="#008000"/><rect x="1048" y="731" width="4" height="12" fill="#008000"/><rect x="1056" y="725" width="4" height="6" fill="#008000"/><rect x="1056" y="731" width="4" height="17" fill="#008000"/><rect x="1064" y="723" width="4" height="8" fill="#008000"/><rect x="1064" y="731" width="4" height="23" fill="#008000"/><rect x="1072" y="718" width="4" height="13" fill="#008000"/><rect x="1072" y="731" width="4" height="23" fill="#ff0000"/><rect x="1080" y="713" width="4" height="18" fill="#008000"/><rect x="1080" y="731" width="4" height="20" fill="#ff0000"/><rect x="1088" y="710" width="4" height="21" fill="#008000"/><rect x="1088" y="731" width="4" height="19" fill="#ff0000"/><rect x="1096" y="711" width="4" height="20" fill="#ff0000"/><rect x="1096" y="731" width="4" height="19" fill="#008000"/><rect x="1104" y="711" width="4" height="20" fill="#ff0000"/><rect x="1104" y="731" width="4" height="17" fill="#ff0000"/><rect x="1112" y="711" width="4" height="20" fill="#008000"/><rect x="1112" y="731" width="4" height="14" fill="#ff0000"/><rect x="1120" y="711" width="4" height="20" fill="#ff0000"/><rect x="1120" y="731" width="4" height="11" fill="#ff0000"/><rect x="1128" y="712" width="4" height="19" fill="#ff0000"/><rect x="1136" y="715" width="4" height="16" fill="#ff0000"/></g>
<g stroke="#dcdcdc" stroke-width="1" stroke-dasharray="3 3" fill="none"><path d="M2 514.5H1227"/><path d="M2 617.5H1227"/><path d="M2 731.5H1227"/></g>
<g clip-path="url(#cm)">
<path d="M3 192.5H1227" stroke="#c80000" stroke-width="1" fill="none"/>
<rect x="0" y="91" width="5" height="25" fill="#000"/><rect x="10" y="102" width="1" height="13" fill="#000"/><rect x="10" y="137" width="1" height="24" fill="#000"/><rect x="8" y="115" width="5" height="22" fill="#000"/><rect x="18" y="116" width="1" height="15" fill="#000"/><rect x="18" y="145" width="1" height="27" fill="#000"/><rect x="16" y="131" width="5" height="14" fill="#000"/><rect x="26" y="117" width="1" height="19" fill="#000"/><rect x="26" y="145" width="1" height="3" fill="#000"/><rect x="24" y="136" width="5" height="9" fill="#000"/><rect x="25" y="137" width="3" height="7" fill="#fff"/><rect x="34" y="105" width="1" height="8" fill="#000"/><rect x="34" y="137" width="1" height="8" fill="#000"/><rect x="32" y="113" width="5" height="24" fill="#000"/><rect x="33" y="114" width="3" height="22" fill="#fff"/><rect x="42" y="101" width="1" height="12" fill="#000"/><rect x="42" y="117" width="1" height="7" fill="#000"/><rect x="40" y="113" width="5" height="4" fill="#000"/><rect x="50" y="88" width="1" height="1" fill="#000"/><rect x="48" y="89" width="5" height="29" fill="#000"/><rect x="49" y="90" width="3" height="27" fill="#fff"/><rect x="58" y="63" width="1" height="5" fill="#000"/><rect x="58" y="89" width="1" height="11" fill="#000"/><rect x="56" y="68" width="5" height="21" fill="#000"/><rect x="57" y="69" width="3" height="19" fill="#fff"/><rect x="66" y="62" width="1" height="6" fill="#000"/><rect x="66" y="86" width="1" height="2" fill="#000"/><rect x="64" y="68" width="5" height="18" fill="#000"/><rect x="74" y="68" width="1" height="16" fill="#000"/><rect x="74" y="100" width="1" height="7" fill="#000"/><rect x="72" y="84" width="5" height="16" fill="#000"/><rect x="82" y="78" width="1" height="21" fill="#000"/><rect x="82" y="103" width="1" height="17" fill="#000"/><rect x="80" y="99" width="5" height="4" fill="#000"/><rect x="90" y="49" width="1" height="9" fill="#000"/><rect x="90" y="103" width="1" height="2" fill="#000"/><rect x="88" y="58" width="5" height="45" fill="#000"/><rect x="89" y="59" width="3" height="43" fill="#fff"/><rect x="98" y="53" width="1" height="4" fill="#000"/><rect x="98" y="101" width="1" height="4" fill="#000"/><rect x="96" y="57" width="5" height="44" fill="#000"/><rect x="106" y="91" width="1" height="4" fill="#000"/><rect x="106" y="105" width="1" height="11" fill="#000"/><rect x="104" y="95" width="5" height="10" fill="#000"/><rect x="114" y="50" width="1" height="19" fill="#000"/><rect x="114" y="105" width="1" height="54" fill="#000"/><rect x="112" y="69" width="5" height="36" fill="#000"/><rect x="113" y="70" width="3" height="34" fill="#fff"/><rect x="122" y="20" width="1" height="30" fill="#000"/><rect x="120" y="50" width="5" height="20" fill="#000"/><rect x="121" y="51" width="3" height="18" fill="#fff"/><rect x="130" y="35" width="1" height="2" fill="#000"/><rect x="130" y="50" width="1" height="17" fill="#000"/><rect x="128" y="37" width="5" height="13" fill="#000"/><rect x="129" y="38" width="3" height="11" fill="#fff"/><rect x="138" y="14" width="1" height="23" fill="#000"/><rect x="138" y="46" width="1" height="14" fill="#000"/><rect x="136" y="37" width="5" height="9" fill="#000"/><rect x="146" y="30" width="1" height="15" fill="#000"/><rect x="146" y="79" width="1" height="12" fill="#000"/><rect x="144" y="45" width="5" height="34" fill="#000"/><rect x="154" y="40" width="1" height="38" fill="#000"/><rect x="154" y="84" width="1" height="47" fill="#000"/><rect x="152" y="78" width="5" height="6" fill="#000"/><rect x="162" y="79" width="1" height="4" fill="#000"/><rect x="162" y="191" width="1" height="14" fill="#000"/><rect x="160" y="83" width="5" height="108" fill="#000"/><rect x="170" y="130" width="1" height="3" fill="#000"/><rect x="170" y="191" width="1" height="49" fill="#000"/><rect x="168" y="133" width="5" height="58" fill="#000"/><rect x="169" y="134" width="3" height="56" fill="#fff"/><rect x="178" y="176" width="1" height="7" fill="#000"/><rect x="176" y="134" width="5" height="42" fill="#000"/><rect x="186" y="192" width="1" height="27" fill="#000"/><rect x="184" y="176" width="5" height="16" fill="#000"/><rect x="194" y="185" width="1" height="7" fill="#000"/><rect x="194" y="230" width="1" height="16" fill="#000"/><rect x="192" y="192" width="5" height="38" fill="#000"/><rect x="202" y="215" width="1" height="14" fill="#000"/><rect x="202" y="250" width="1" height="21" fill="#000"/><rect x="200" y="229" width="5" height="21" fill="#000"/><rect x="210" y="211" width="1" height="3" fill="#000"/><rect x="210" y="241" width="1" height="17" fill="#000"/><rect x="208" y="214" width="5" height="27" fill="#000"/><rect x="209" y="215" width="3" height="25" fill="#fff"/><rect x="218" y="208" width="1" height="5" fill="#000"/><rect x="218" y="233" width="1" height="1" fill="#000"/><rect x="216" y="213" width="5" height="20" fill="#000"/><rect x="226" y="199" width="1" height="4" fill="#000"/><rect x="226" y="233" width="1" height="3" fill="#000"/><rect x="224" y="203" width="5" height="30" fill="#000"/><rect x="225" y="204" width="3" height="28" fill="#fff"/><rect x="234" y="205" width="1" height="5" fill="#000"/><rect x="232" y="170" width="5" height="35" fill="#000"/><rect x="233" y="171" width="3" height="33" fill="#fff"/><rect x="242" y="148" width="1" height="22" fill="#000"/><rect x="242" y="178" width="1" height="13" fill="#000"/><rect x="240" y="170" width="5" height="8" fill="#000"/><rect x="250" y="166" width="1" height="9" fill="#000"/><rect x="250" y="179" width="1" height="19" fill="#000"/><rect x="248" y="175" width="5" height="4" fill="#000"/><rect x="249" y="176" width="3" height="2" fill="#fff"/><rect x="258" y="164" width="1" height="1" fill="#000"/><rect x="258" y="176" width="1" height="3" fill="#000"/><rect x="256" y="165" width="5" height="11" fill="#000"/><rect x="257" y="166" width="3" height="9" fill="#fff"/><rect x="266" y="161" width="1" height="3" fill="#000"/><rect x="266" y="186" width="1" height="2" fill="#000"/><rect x="264" y="164" width="5" height="22" fill="#000"/><rect x="274" y="185" width="1" height="1" fill="#000"/><rect x="274" y="203" width="1" height="1" fill="#000"/><rect x="272" y="186" width="5" height="17" fill="#000"/><rect x="282" y="190" width="1" height="11" fill="#000"/><rect x="282" y="276" width="1" height="13" fill="#000"/><rect x="280" y="201" width="5" height="75" fill="#000"/><rect x="290" y="271" width="1" height="5" fill="#000"/><rect x="290" y="340" width="1" height="3" fill="#000"/><rect x="288" y="276" width="5" height="64" fill="#000"/><rect x="298" y="325" width="1" height="14" fill="#000"/><rect x="298" y="387" width="1" height="4" fill="#000"/><rect x="296" y="339" width="5" height="48" fill="#000"/><rect x="306" y="327" width="1" height="44" fill="#000"/><rect x="306" y="386" width="1" height="13" fill="#000"/><rect x="304" y="371" width="5" height="15" fill="#000"/><rect x="305" y="372" width="3" height="13" fill="#fff"/><rect x="314" y="356" width="1" height="13" fill="#000"/><rect x="314" y="372" width="1" height="49" fill="#000"/><rect x="312" y="369" width="5" height="3" fill="#000"/><rect x="313" y="370" width="3" height="1" fill="#fff"/><rect x="322" y="279" width="1" height="39" fill="#000"/><rect x="322" y="370" width="1" height="5" fill="#000"/><rect x="320" y="318" width="5" height="52" fill="#000"/><rect x="321" y="319" width="3" height="50" fill="#fff"/><rect x="330" y="285" width="1" height="33" fill="#000"/><rect x="330" y="321" width="1" height="5" fill="#000"/><rect x="328" y="318" width="5" height="3" fill="#000"/><rect x="338" y="286" width="1" height="21" fill="#000"/><rect x="338" y="321" width="1" height="35" fill="#000"/><rect x="336" y="307" width="5" height="14" fill="#000"/><rect x="337" y="308" width="3" height="12" fill="#fff"/><rect x="346" y="306" width="1" height="1" fill="#000"/><rect x="346" y="345" width="1" height="36" fill="#000"/><rect x="344" y="307" width="5" height="38" fill="#000"/><rect x="354" y="294" width="1" height="4" fill="#000"/><rect x="354" y="346" width="1" height="6" fill="#000"/><rect x="352" y="298" width="5" height="48" fill="#000"/><rect x="353" y="299" width="3" height="46" fill="#fff"/><rect x="362" y="251" width="1" height="46" fill="#000"/><rect x="362" y="308" width="1" height="9" fill="#000"/><rect x="360" y="297" width="5" height="11" fill="#000"/><rect x="370" y="273" width="1" height="6" fill="#000"/><rect x="370" y="308" width="1" height="8" fill="#000"/><rect x="368" y="279" width="5" height="29" fill="#000"/><rect x="369" y="280" width="3" height="27" fill="#fff"/><rect x="378" y="247" width="1" height="14" fill="#000"/><rect x="378" y="280" width="1" height="5" fill="#000"/><rect x="376" y="261" width="5" height="19" fill="#000"/><rect x="377" y="262" width="3" height="17" fill="#fff"/><rect x="386" y="246" width="1" height="14" fill="#000"/><rect x="386" y="270" width="1" height="12" fill="#000"/><rect x="384" y="260" width="5" height="10" fill="#000"/><rect x="394" y="233" width="1" height="10" fill="#000"/><rect x="394" y="268" width="1" height="10" fill="#000"/><rect x="392" y="243" width="5" height="25" fill="#000"/><rect x="393" y="244" width="3" height="23" fill="#fff"/><rect x="402" y="213" width="1" height="8" fill="#000"/><rect x="402" y="241" width="1" height="3" fill="#000"/><rect x="400" y="221" width="5" height="20" fill="#000"/><rect x="401" y="222" width="3" height="18" fill="#fff"/><rect x="410" y="214" width="1" height="6" fill="#000"/><rect x="410" y="243" width="1" height="8" fill="#000"/><rect x="408" y="220" width="5" height="23" fill="#000"/><rect x="418" y="241" width="1" height="1" fill="#000"/><rect x="418" y="266" width="1" height="2" fill="#000"/><rect x="416" y="242" width="5" height="24" fill="#000"/><rect x="426" y="254" width="1" height="3" fill="#000"/><rect x="426" y="265" width="1" height="13" fill="#000"/><rect x="424" y="257" width="5" height="8" fill="#000"/><rect x="425" y="258" width="3" height="6" fill="#fff"/><rect x="434" y="220" width="1" height="9" fill="#000"/><rect x="432" y="229" width="5" height="27" fill="#000"/><rect x="433" y="230" width="3" height="25" fill="#fff"/><rect x="442" y="215" width="1" height="13" fill="#000"/><rect x="442" y="245" width="1" height="6" fill="#000"/><rect x="440" y="228" width="5" height="17" fill="#000"/><rect x="450" y="218" width="1" height="8" fill="#000"/><rect x="450" y="247" width="1" height="1" fill="#000"/><rect x="448" y="226" width="5" height="21" fill="#000"/><rect x="449" y="227" width="3" height="19" fill="#fff"/><rect x="458" y="254" width="1" height="2" fill="#000"/><rect x="456" y="226" width="5" height="28" fill="#000"/><rect x="466" y="228" width="1" height="2" fill="#000"/><rect x="466" y="255" width="1" height="1" fill="#000"/><rect x="464" y="230" width="5" height="25" fill="#000"/><rect x="465" y="231" width="3" height="23" fill="#fff"/><rect x="474" y="221" width="1" height="3" fill="#000"/><rect x="474" y="230" width="1" height="7" fill="#000"/><rect x="472" y="224" width="5" height="6" fill="#000"/><rect x="473" y="225" width="3" height="4" fill="#fff"/><rect x="482" y="170" width="1" height="35" fill="#000"/><rect x="482" y="225" width="1" height="1" fill="#000"/><rect x="480" y="205" width="5" height="20" fill="#000"/><rect x="481" y="206" width="3" height="18" fill="#fff"/><rect x="490" y="193" width="1" height="12" fill="#000"/><rect x="490" y="222" width="1" height="1" fill="#000"/><rect x="488" y="205" width="5" height="17" fill="#000"/><rect x="498" y="211" width="1" height="8" fill="#000"/><rect x="498" y="221" width="1" height="12" fill="#000"/><rect x="496" y="219" width="5" height="2" fill="#000"/><rect x="506" y="204" width="1" height="15" fill="#000"/><rect x="506" y="221" width="1" height="12" fill="#000"/><rect x="504" y="219" width="5" height="2" fill="#000"/><rect x="514" y="213" width="1" height="1" fill="#000"/><rect x="514" y="221" width="1" height="5" fill="#000"/><rect x="512" y="214" width="5" height="7" fill="#000"/><rect x="513" y="215" width="3" height="5" fill="#fff"/><rect x="522" y="203" width="1" height="11" fill="#000"/><rect x="522" y="215" width="1" height="10" fill="#000"/><rect x="520" y="214" width="5" height="1" fill="#000"/><rect x="530" y="213" width="1" height="1" fill="#000"/><rect x="530" y="231" width="1" height="10" fill="#000"/><rect x="528" y="214" width="5" height="17" fill="#000"/><rect x="538" y="216" width="1" height="7" fill="#000"/><rect x="538" y="231" width="1" height="18" fill="#000"/><rect x="536" y="223" width="5" height="8" fill="#000"/><rect x="537" y="224" width="3" height="6" fill="#fff"/><rect x="546" y="216" width="1" height="4" fill="#000"/><rect x="546" y="223" width="1" height="15" fill="#000"/><rect x="544" y="220" width="5" height="3" fill="#000"/><rect x="545" y="221" width="3" height="1" fill="#fff"/><rect x="554" y="215" width="1" height="4" fill="#000"/><rect x="554" y="231" width="1" height="12" fill="#000"/><rect x="552" y="219" width="5" height="12" fill="#000"/><rect x="562" y="200" width="1" height="3" fill="#000"/><rect x="562" y="231" width="1" height="7" fill="#000"/><rect x="560" y="203" width="5" height="28" fill="#000"/><rect x="561" y="204" width="3" height="26" fill="#fff"/><rect x="570" y="198" width="1" height="5" fill="#000"/><rect x="570" y="209" width="1" height="6" fill="#000"/><rect x="568" y="203" width="5" height="6" fill="#000"/><rect x="578" y="201" width="1" height="3" fill="#000"/><rect x="578" y="209" width="1" height="6" fill="#000"/><rect x="576" y="204" width="5" height="5" fill="#000"/><rect x="577" y="205" width="3" height="3" fill="#fff"/><rect x="586" y="188" width="1" height="16" fill="#000"/><rect x="586" y="208" width="1" height="5" fill="#000"/><rect x="584" y="204" width="5" height="4" fill="#000"/><rect x="594" y="200" width="1" height="6" fill="#000"/><rect x="594" y="210" width="1" height="18" fill="#000"/><rect x="592" y="206" width="5" height="4" fill="#000"/><rect x="593" y="207" width="3" height="2" fill="#fff"/><rect x="602" y="202" width="1" height="4" fill="#000"/><rect x="602" y="213" width="1" height="2" fill="#000"/><rect x="600" y="206" width="5" height="7" fill="#000"/><rect x="610" y="206" width="1" height="2" fill="#000"/><rect x="610" y="212" width="1" height="4" fill="#000"/><rect x="608" y="208" width="5" height="4" fill="#000"/><rect x="609" y="209" width="3" height="2" fill="#fff"/><rect x="618" y="205" width="1" height="3" fill="#000"/><rect x="618" y="229" width="1" height="6" fill="#000"/><rect x="616" y="208" width="5" height="21" fill="#000"/><rect x="626" y="220" width="1" height="3" fill="#000"/><rect x="626" y="229" width="1" height="13" fill="#000"/><rect x="624" y="223" width="5" height="6" fill="#000"/><rect x="625" y="224" width="3" height="4" fill="#fff"/><rect x="634" y="220" width="1" height="2" fill="#000"/><rect x="634" y="225" width="1" height="8" fill="#000"/><rect x="632" y="222" width="5" height="3" fill="#000"/><rect x="642" y="223" width="1" height="3" fill="#000"/><rect x="640" y="191" width="5" height="32" fill="#000"/><rect x="641" y="192" width="3" height="30" fill="#fff"/><rect x="650" y="188" width="1" height="3" fill="#000"/><rect x="650" y="195" width="1" height="11" fill="#000"/><rect x="648" y="191" width="5" height="4" fill="#000"/><rect x="658" y="176" width="1" height="18" fill="#000"/><rect x="658" y="201" width="1" height="3" fill="#000"/><rect x="656" y="194" width="5" height="7" fill="#000"/><rect x="666" y="196" width="1" height="4" fill="#000"/><rect x="666" y="218" width="1" height="5" fill="#000"/><rect x="664" y="200" width="5" height="18" fill="#000"/><rect x="674" y="203" width="1" height="6" fill="#000"/><rect x="674" y="216" width="1" height="3" fill="#000"/><rect x="672" y="209" width="5" height="7" fill="#000"/><rect x="673" y="210" width="3" height="5" fill="#fff"/><rect x="682" y="138" width="1" height="72" fill="#000"/><rect x="682" y="235" width="1" height="41" fill="#000"/><rect x="680" y="210" width="5" height="25" fill="#000"/><rect x="690" y="166" width="1" height="19" fill="#000"/><rect x="690" y="235" width="1" height="14" fill="#000"/><rect x="688" y="185" width="5" height="50" fill="#000"/><rect x="689" y="186" width="3" height="48" fill="#fff"/><rect x="698" y="148" width="1" height="18" fill="#000"/><rect x="698" y="185" width="1" height="14" fill="#000"/><rect x="696" y="166" width="5" height="19" fill="#000"/><rect x="697" y="167" width="3" height="17" fill="#fff"/><rect x="706" y="146" width="1" height="21" fill="#000"/><rect x="706" y="174" width="1" height="9" fill="#000"/><rect x="704" y="167" width="5" height="7" fill="#000"/><rect x="714" y="167" width="1" height="6" fill="#000"/><rect x="714" y="177" width="1" height="13" fill="#000"/><rect x="712" y="173" width="5" height="4" fill="#000"/><rect x="722" y="110" width="1" height="16" fill="#000"/><rect x="722" y="176" width="1" height="9" fill="#000"/><rect x="720" y="126" width="5" height="50" fill="#000"/><rect x="721" y="127" width="3" height="48" fill="#fff"/><rect x="730" y="96" width="1" height="13" fill="#000"/><rect x="730" y="126" width="1" height="18" fill="#000"/><rect x="728" y="109" width="5" height="17" fill="#000"/><rect x="729" y="110" width="3" height="15" fill="#fff"/><rect x="738" y="106" width="1" height="4" fill="#000"/><rect x="738" y="120" width="1" height="5" fill="#000"/><rect x="736" y="110" width="5" height="10" fill="#000"/><rect x="746" y="110" width="1" height="7" fill="#000"/><rect x="746" y="120" width="1" height="20" fill="#000"/><rect x="744" y="117" width="5" height="3" fill="#000"/><rect x="745" y="118" width="3" height="1" fill="#fff"/><rect x="754" y="71" width="1" height="35" fill="#000"/><rect x="752" y="106" width="5" height="12" fill="#000"/><rect x="753" y="107" width="3" height="10" fill="#fff"/><rect x="762" y="91" width="1" height="7" fill="#000"/><rect x="762" y="106" width="1" height="7" fill="#000"/><rect x="760" y="98" width="5" height="8" fill="#000"/><rect x="761" y="99" width="3" height="6" fill="#fff"/><rect x="770" y="95" width="1" height="2" fill="#000"/><rect x="770" y="113" width="1" height="7" fill="#000"/><rect x="768" y="97" width="5" height="16" fill="#000"/><rect x="778" y="96" width="1" height="2" fill="#000"/><rect x="778" y="113" width="1" height="11" fill="#000"/><rect x="776" y="98" width="5" height="15" fill="#000"/><rect x="777" y="99" width="3" height="13" fill="#fff"/><rect x="786" y="95" width="1" height="5" fill="#000"/><rect x="786" y="101" width="1" height="14" fill="#000"/><rect x="784" y="100" width="5" height="1" fill="#000"/><rect x="794" y="68" width="1" height="10" fill="#000"/><rect x="794" y="101" width="1" height="10" fill="#000"/><rect x="792" y="78" width="5" height="23" fill="#000"/><rect x="793" y="79" width="3" height="21" fill="#fff"/><rect x="802" y="79" width="1" height="1" fill="#000"/><rect x="802" y="116" width="1" height="13" fill="#000"/><rect x="800" y="80" width="5" height="36" fill="#000"/><rect x="810" y="116" width="1" height="1" fill="#000"/><rect x="810" y="156" width="1" height="34" fill="#000"/><rect x="808" y="117" width="5" height="39" fill="#000"/><rect x="818" y="144" width="1" height="12" fill="#000"/><rect x="818" y="160" width="1" height="8" fill="#000"/><rect x="816" y="156" width="5" height="4" fill="#000"/><rect x="826" y="131" width="1" height="10" fill="#000"/><rect x="826" y="160" width="1" height="18" fill="#000"/><rect x="824" y="141" width="5" height="19" fill="#000"/><rect x="825" y="142" width="3" height="17" fill="#fff"/><rect x="834" y="59" width="1" height="12" fill="#000"/><rect x="834" y="141" width="1" height="9" fill="#000"/><rect x="832" y="71" width="5" height="70" fill="#000"/><rect x="833" y="72" width="3" height="68" fill="#fff"/><rect x="842" y="71" width="1" height="4" fill="#000"/><rect x="840" y="44" width="5" height="27" fill="#000"/><rect x="841" y="45" width="3" height="25" fill="#fff"/><rect x="850" y="24" width="1" height="14" fill="#000"/><rect x="850" y="44" width="1" height="14" fill="#000"/><rect x="848" y="38" width="5" height="6" fill="#000"/><rect x="849" y="39" width="3" height="4" fill="#fff"/><rect x="858" y="16" width="1" height="8" fill="#000"/><rect x="858" y="38" width="1" height="5" fill="#000"/><rect x="856" y="24" width="5" height="14" fill="#000"/><rect x="857" y="25" width="3" height="12" fill="#fff"/><rect x="866" y="23" width="1" height="2" fill="#000"/><rect x="866" y="44" width="1" height="3" fill="#000"/><rect x="864" y="25" width="5" height="19" fill="#000"/><rect x="874" y="28" width="1" height="16" fill="#000"/><rect x="874" y="53" width="1" height="13" fill="#000"/><rect x="872" y="44" width="5" height="9" fill="#000"/><rect x="882" y="47" width="1" height="7" fill="#000"/><rect x="882" y="55" width="1" height="10" fill="#000"/><rect x="880" y="54" width="5" height="1" fill="#000"/><rect x="890" y="46" width="1" height="8" fill="#000"/><rect x="890" y="74" width="1" height="9" fill="#000"/><rect x="888" y="54" width="5" height="20" fill="#000"/><rect x="898" y="57" width="1" height="8" fill="#000"/><rect x="898" y="74" width="1" height="12" fill="#000"/><rect x="896" y="65" width="5" height="9" fill="#000"/><rect x="897" y="66" width="3" height="7" fill="#fff"/><rect x="906" y="60" width="1" height="1" fill="#000"/><rect x="906" y="65" width="1" height="10" fill="#000"/><rect x="904" y="61" width="5" height="4" fill="#000"/><rect x="905" y="62" width="3" height="2" fill="#fff"/><rect x="914" y="54" width="1" height="6" fill="#000"/><rect x="914" y="62" width="1" height="19" fill="#000"/><rect x="912" y="60" width="5" height="2" fill="#000"/><rect x="922" y="50" width="1" height="9" fill="#000"/><rect x="922" y="61" width="1" height="22" fill="#000"/><rect x="920" y="59" width="5" height="2" fill="#000"/><rect x="930" y="50" width="1" height="10" fill="#000"/><rect x="930" y="95" width="1" height="1" fill="#000"/><rect x="928" y="60" width="5" height="35" fill="#000"/><rect x="938" y="94" width="1" height="1" fill="#000"/><rect x="938" y="149" width="1" height="24" fill="#000"/><rect x="936" y="95" width="5" height="54" fill="#000"/><rect x="946" y="134" width="1" height="12" fill="#000"/><rect x="946" y="149" width="1" height="27" fill="#000"/><rect x="944" y="146" width="5" height="3" fill="#000"/><rect x="945" y="147" width="3" height="1" fill="#fff"/><rect x="954" y="123" width="1" height="1" fill="#000"/><rect x="954" y="146" width="1" height="7" fill="#000"/><rect x="952" y="124" width="5" height="22" fill="#000"/><rect x="953" y="125" width="3" height="20" fill="#fff"/><rect x="962" y="106" width="1" height="13" fill="#000"/><rect x="962" y="124" width="1" height="16" fill="#000"/><rect x="960" y="119" width="5" height="5" fill="#000"/><rect x="961" y="120" width="3" height="3" fill="#fff"/><rect x="970" y="99" width="1" height="5" fill="#000"/><rect x="970" y="118" width="1" height="7" fill="#000"/><rect x="968" y="104" width="5" height="14" fill="#000"/><rect x="969" y="105" width="3" height="12" fill="#fff"/><rect x="978" y="100" width="1" height="3" fill="#000"/><rect x="978" y="122" width="1" height="6" fill="#000"/><rect x="976" y="103" width="5" height="19" fill="#000"/><rect x="986" y="106" width="1" height="3" fill="#000"/><rect x="986" y="123" width="1" height="5" fill="#000"/><rect x="984" y="109" width="5" height="14" fill="#000"/><rect x="985" y="110" width="3" height="12" fill="#fff"/><rect x="994" y="105" width="1" height="5" fill="#000"/><rect x="994" y="120" width="1" height="3" fill="#000"/><rect x="992" y="110" width="5" height="10" fill="#000"/><rect x="1002" y="113" width="1" height="7" fill="#000"/><rect x="1002" y="126" width="1" height="10" fill="#000"/><rect x="1000" y="120" width="5" height="6" fill="#000"/><rect x="1010" y="124" width="1" height="2" fill="#000"/><rect x="1010" y="150" width="1" height="14" fill="#000"/><rect x="1008" y="126" width="5" height="24" fill="#000"/><rect x="1018" y="148" width="1" height="2" fill="#000"/><rect x="1018" y="166" width="1" height="7" fill="#000"/><rect x="1016" y="150" width="5" height="16" fill="#000"/><rect x="1026" y="155" width="1" height="11" fill="#000"/><rect x="1026" y="175" width="1" height="4" fill="#000"/><rect x="1024" y="166" width="5" height="9" fill="#000"/><rect x="1034" y="247" width="1" height="7" fill="#000"/><rect x="1032" y="175" width="5" height="72" fill="#000"/><rect x="1042" y="224" width="1" height="9" fill="#000"/><rect x="1042" y="246" width="1" height="10" fill="#000"/><rect x="1040" y="233" width="5" height="13" fill="#000"/><rect x="1041" y="234" width="3" height="11" fill="#fff"/><rect x="1050" y="206" width="1" height="4" fill="#000"/><rect x="1050" y="234" width="1" height="7" fill="#000"/><rect x="1048" y="210" width="5" height="24" fill="#000"/><rect x="1049" y="211" width="3" height="22" fill="#fff"/><rect x="1058" y="200" width="1" height="6" fill="#000"/><rect x="1058" y="211" width="1" height="12" fill="#000"/><rect x="1056" y="206" width="5" height="5" fill="#000"/><rect x="1057" y="207" width="3" height="3" fill="#fff"/><rect x="1066" y="230" width="1" height="15" fill="#000"/><rect x="1064" y="205" width="5" height="25" fill="#000"/><rect x="1074" y="223" width="1" height="6" fill="#000"/><rect x="1074" y="233" width="1" height="8" fill="#000"/><rect x="1072" y="229" width="5" height="4" fill="#000"/><rect x="1082" y="199" width="1" height="14" fill="#000"/><rect x="1082" y="233" width="1" height="5" fill="#000"/><rect x="1080" y="213" width="5" height="20" fill="#000"/><rect x="1081" y="214" width="3" height="18" fill="#fff"/><rect x="1090" y="203" width="1" height="4" fill="#000"/><rect x="1090" y="213" width="1" height="15" fill="#000"/><rect x="1088" y="207" width="5" height="6" fill="#000"/><rect x="1089" y="208" width="3" height="4" fill="#fff"/><rect x="1098" y="179" width="1" height="13" fill="#000"/><rect x="1098" y="207" width="1" height="6" fill="#000"/><rect x="1096" y="192" width="5" height="15" fill="#000"/><rect x="1097" y="193" width="3" height="13" fill="#fff"/>
<polyline points="20.0,-6.0 26.0,0.8 34.0,9.8 42.0,18.5 50.0,26.3 58.0,32.9 66.0,39.2 74.0,46.1 82.0,53.5 90.0,59.6 98.0,64.4 106.0,67.9 114.0,70.6 122.0,71.0 130.0,71.3 138.0,74.1 146.0,74.5 154.0,75.0 162.0,76.5 170.0,78.6 178.0,78.7 186.0,76.9 194.0,74.6 202.0,72.2 210.0,72.1 218.0,72.5 226.0,77.3 234.0,85.6 242.0,92.8 250.0,100.5 258.0,108.7 266.0,117.2 274.0,126.3 282.0,135.8 290.0,141.6 298.0,144.7 306.0,147.2 314.0,148.9 322.0,150.5 330.0,152.4 338.0,155.5 346.0,162.6 354.0,173.0 362.0,187.2 370.0,200.9 378.0,213.1 386.0,222.3 394.0,229.6 402.0,235.8 410.0,244.0 418.0,251.5 426.0,253.7 434.0,256.2 442.0,257.2 450.0,257.5 458.0,256.9 466.0,254.4 474.0,254.0 482.0,254.0 490.0,254.0 498.0,253.7 506.0,252.0 514.0,250.7 522.0,250.1 530.0,249.5 538.0,247.8 546.0,243.6 554.0,240.0 562.0,238.1 570.0,236.7 578.0,235.6 586.0,234.9 594.0,234.3 602.0,233.8 610.0,233.3 618.0,232.8 626.0,232.1 634.0,230.5 642.0,228.4 650.0,226.8 658.0,225.4 666.0,224.2 674.0,223.1 682.0,222.5 690.0,222.3 698.0,222.2 706.0,221.8 714.0,219.9 722.0,217.8 730.0,217.0 738.0,216.5 746.0,215.7 754.0,213.5 762.0,210.5 770.0,207.6 778.0,204.9 786.0,201.7 794.0,197.2 802.0,191.0 810.0,184.6 818.0,177.9 826.0,172.4 834.0,167.6 842.0,163.7 850.0,160.1 858.0,153.6 866.0,149.5 874.0,149.5 882.0,149.5 890.0,149.5 898.0,147.1 906.0,140.8 914.0,132.8 922.0,124.3 930.0,117.4 938.0,111.3 946.0,106.8 954.0,103.6 962.0,101.0 970.0,98.6 978.0,96.5 986.0,94.5 994.0,93.0 1002.0,96.0 1010.0,99.9 1018.0,102.7 1026.0,103.8 1034.0,104.7 1042.0,105.7 1050.0,106.4 1058.0,106.8 1066.0,107.7 1074.0,110.6 1082.0,114.4 1090.0,119.5 1098.0,127.1 1106.0,134.4 1114.0,139.9 1122.0,144.1 1130.0,150.4 1138.0,157.9 1146.0,162.9 1154.0,166.7 1160.0,169.0" fill="none" stroke="#0a3ccd" stroke-width="2" stroke-linejoin="round" shape-rendering="geometricPrecision"/>
<polyline points="0.0,-1.0 2.0,2.3 10.0,16.0 18.0,29.4 26.0,40.1 34.0,47.4 42.0,54.5 50.0,64.8 58.0,74.6 66.0,82.0 74.0,87.0 82.0,90.7 90.0,91.4 98.0,90.5 106.0,88.0 114.0,87.7 122.0,88.7 130.0,88.8 138.0,87.8 146.0,88.3 154.0,91.0 162.0,85.0 170.0,79.2 178.0,74.7 186.0,74.1 194.0,74.9 202.0,83.1 210.0,95.6 218.0,103.2 226.0,113.3 234.0,127.4 242.0,141.1 250.0,153.1 258.0,162.4 266.0,169.7 274.0,172.1 282.0,172.4 290.0,172.5 298.0,172.2 306.0,172.1 314.0,174.8 322.0,181.8 330.0,194.5 338.0,212.3 346.0,232.4 354.0,254.2 362.0,262.5 370.0,269.3 378.0,275.9 386.0,284.3 394.0,287.5 402.0,287.5 410.0,287.5 418.0,286.3 426.0,283.1 434.0,278.2 442.0,273.0 450.0,268.0 458.0,266.4 466.0,265.6 474.0,263.1 482.0,258.8 490.0,256.3 498.0,254.3 506.0,252.0 514.0,248.6 522.0,242.1 530.0,237.1 538.0,234.8 546.0,233.1 554.0,231.3 562.0,229.6 570.0,229.4 578.0,229.3 586.0,229.2 594.0,229.2 602.0,229.0 610.0,226.6 618.0,223.3 626.0,220.1 634.0,218.5 642.0,217.5 650.0,217.9 658.0,218.9 666.0,219.6 674.0,219.9 682.0,220.0 690.0,216.9 698.0,213.2 706.0,212.4 714.0,212.0 722.0,211.7 730.0,210.8 738.0,206.4 746.0,201.6 754.0,197.6 762.0,192.5 770.0,184.4 778.0,174.5 786.0,165.9 794.0,157.8 802.0,151.0 810.0,145.8 818.0,141.3 826.0,136.3 834.0,130.6 842.0,129.3 850.0,131.9 858.0,134.6 866.0,135.8 874.0,131.3 882.0,123.5 890.0,114.0 898.0,104.3 906.0,96.2 914.0,89.4 922.0,84.8 930.0,81.6 938.0,79.7 946.0,78.4 954.0,77.2 962.0,75.7 970.0,75.0 978.0,82.0 986.0,91.9 994.0,97.2 1002.0,100.0 1010.0,102.4 1018.0,104.2 1026.0,105.2 1034.0,106.3 1042.0,107.9 1050.0,112.2 1058.0,117.9 1066.0,125.1 1074.0,136.3 1082.0,149.4 1090.0,157.9 1098.0,165.2 1106.0,171.8 1114.0,178.2 1122.0,184.2 1130.0,188.9 1138.0,189.0 1139.0,189.0" fill="none" stroke="#ff0000" stroke-width="2" stroke-linejoin="round" shape-rendering="geometricPrecision"/>
<polyline points="3.0,44.0 10.0,60.0 18.0,69.1 26.0,76.0 34.0,85.2 42.0,97.2 50.0,106.0 58.0,109.5 66.0,109.5 74.0,109.3 82.0,104.0 90.0,98.7 98.0,96.0 106.0,96.0 114.0,94.9 122.0,90.5 130.0,92.1 138.0,94.9 146.0,87.2 154.0,78.0 162.0,70.2 170.0,69.5 178.0,70.7 186.0,81.8 194.0,104.1 202.0,114.0 210.0,129.6 218.0,147.1 226.0,164.3 234.0,177.9 242.0,189.1 250.0,194.0 258.0,193.9 266.0,190.1 274.0,186.4 282.0,184.1 290.0,183.5 298.0,183.5 306.0,189.7 314.0,210.9 322.0,240.0 330.0,269.2 338.0,292.5 346.0,299.4 354.0,299.6 362.0,302.5 370.0,309.6 378.0,314.0 386.0,310.9 394.0,305.3 402.0,297.8 410.0,289.7 418.0,282.7 426.0,274.3 434.0,265.2 442.0,263.4 450.0,262.7 458.0,257.8 466.0,252.7 474.0,249.5 482.0,247.7 490.0,245.6 498.0,240.7 506.0,233.6 514.0,228.0 522.0,226.8 530.0,225.8 538.0,223.5 546.0,222.6 554.0,223.7 562.0,224.6 570.0,225.4 578.0,225.4 586.0,224.7 594.0,221.9 602.0,218.3 610.0,215.0 618.0,213.6 626.0,213.1 634.0,213.1 642.0,214.6 650.0,217.1 658.0,218.5 666.0,219.0 674.0,214.5 682.0,209.4 690.0,209.0 698.0,209.0 706.0,209.0 714.0,209.0 722.0,201.9 730.0,196.3 738.0,190.7 746.0,181.1 754.0,170.6 762.0,161.2 770.0,151.9 778.0,141.7 786.0,134.3 794.0,129.1 802.0,124.7 810.0,120.7 818.0,114.6 826.0,113.0 834.0,119.6 842.0,127.4 850.0,130.0 858.0,129.7 866.0,114.4 874.0,99.0 882.0,85.0 890.0,74.8 898.0,69.0 906.0,66.0 914.0,66.2 922.0,66.8 930.0,67.1 938.0,67.2 946.0,67.3 954.0,67.5 962.0,80.0 970.0,94.8 978.0,103.7 986.0,107.8 994.0,108.7 1002.0,109.3 1010.0,109.8 1018.0,110.9 1026.0,113.2 1034.0,120.1 1042.0,126.9 1050.0,135.0 1058.0,148.4 1066.0,167.9 1074.0,180.0 1082.0,185.7 1090.0,190.6 1098.0,198.9 1106.0,205.7 1114.0,206.0 1122.0,205.1 1122.5,205.0" fill="none" stroke="#00ff00" stroke-width="2" stroke-linejoin="round" shape-rendering="geometricPrecision"/>
<g shape-rendering="geometricPrecision"><path d="M67.8 48.6L61.7 57.8L67.5 54.8Z" fill="#7c7c7c"/><path d="M67.8 48.6L67.5 54.8L73.3 57.8Z" fill="#f4f4f4" stroke="#b4b4c8" stroke-width="0.7"/><path d="M91.8 35.6L85.7 44.8L91.5 41.8Z" fill="#7c7c7c"/><path d="M91.8 35.6L91.5 41.8L97.3 44.8Z" fill="#f4f4f4" stroke="#b4b4c8" stroke-width="0.7"/><path d="M139.8 0.6L133.7 9.8L139.5 6.8Z" fill="#7c7c7c"/><path d="M139.8 0.6L139.5 6.8L145.3 9.8Z" fill="#f4f4f4" stroke="#b4b4c8" stroke-width="0.7"/><path d="M243.8 134.6L237.7 143.8L243.5 140.8Z" fill="#7c7c7c"/><path d="M243.8 134.6L243.5 140.8L249.3 143.8Z" fill="#f4f4f4" stroke="#b4b4c8" stroke-width="0.7"/><path d="M267.8 147.6L261.7 156.8L267.5 153.8Z" fill="#7c7c7c"/><path d="M267.8 147.6L267.5 153.8L273.3 156.8Z" fill="#f4f4f4" stroke="#b4b4c8" stroke-width="0.7"/><path d="M323.8 265.6L317.7 274.8L323.5 271.8Z" fill="#7c7c7c"/><path d="M323.8 265.6L323.5 271.8L329.3 274.8Z" fill="#f4f4f4" stroke="#b4b4c8" stroke-width="0.7"/><path d="M403.8 199.6L397.7 208.8L403.5 205.8Z" fill="#7c7c7c"/><path d="M403.8 199.6L403.5 205.8L409.3 208.8Z" fill="#f4f4f4" stroke="#b4b4c8" stroke-width="0.7"/><path d="M443.8 201.6L437.7 210.8L443.5 207.8Z" fill="#7c7c7c"/><path d="M443.8 201.6L443.5 207.8L449.3 210.8Z" fill="#f4f4f4" stroke="#b4b4c8" stroke-width="0.7"/><path d="M483.8 156.6L477.7 165.8L483.5 162.8Z" fill="#7c7c7c"/><path d="M483.8 156.6L483.5 162.8L489.3 165.8Z" fill="#f4f4f4" stroke="#b4b4c8" stroke-width="0.7"/><path d="M523.8 189.6L517.7 198.8L523.5 195.8Z" fill="#7c7c7c"/><path d="M523.8 189.6L523.5 195.8L529.3 198.8Z" fill="#f4f4f4" stroke="#b4b4c8" stroke-width="0.7"/><path d="M587.8 174.6L581.7 183.8L587.5 180.8Z" fill="#7c7c7c"/><path d="M587.8 174.6L587.5 180.8L593.3 183.8Z" fill="#f4f4f4" stroke="#b4b4c8" stroke-width="0.7"/><path d="M659.8 162.6L653.7 171.8L659.5 168.8Z" fill="#7c7c7c"/><path d="M659.8 162.6L659.5 168.8L665.3 171.8Z" fill="#f4f4f4" stroke="#b4b4c8" stroke-width="0.7"/><path d="M683.8 124.6L677.7 133.8L683.5 130.8Z" fill="#7c7c7c"/><path d="M683.8 124.6L683.5 130.8L689.3 133.8Z" fill="#f4f4f4" stroke="#b4b4c8" stroke-width="0.7"/><path d="M731.8 82.6L725.7 91.8L731.5 88.8Z" fill="#7c7c7c"/><path d="M731.8 82.6L731.5 88.8L737.3 91.8Z" fill="#f4f4f4" stroke="#b4b4c8" stroke-width="0.7"/><path d="M755.8 57.6L749.7 66.8L755.5 63.8Z" fill="#7c7c7c"/><path d="M755.8 57.6L755.5 63.8L761.3 66.8Z" fill="#f4f4f4" stroke="#b4b4c8" stroke-width="0.7"/><path d="M795.8 54.6L789.7 63.8L795.5 60.8Z" fill="#7c7c7c"/><path d="M795.8 54.6L795.5 60.8L801.3 63.8Z" fill="#f4f4f4" stroke="#b4b4c8" stroke-width="0.7"/><path d="M859.8 2.1L853.7 11.3L859.5 8.3Z" fill="#7c7c7c"/><path d="M859.8 2.1L859.5 8.3L865.3 11.3Z" fill="#f4f4f4" stroke="#b4b4c8" stroke-width="0.7"/><path d="M931.8 36.1L925.7 45.3L931.5 42.3Z" fill="#7c7c7c"/><path d="M931.8 36.1L931.5 42.3L937.3 45.3Z" fill="#f4f4f4" stroke="#b4b4c8" stroke-width="0.7"/><path d="M979.8 86.1L973.7 95.3L979.5 92.3Z" fill="#7c7c7c"/><path d="M979.8 86.1L979.5 92.3L985.3 95.3Z" fill="#f4f4f4" stroke="#b4b4c8" stroke-width="0.7"/><path d="M1059.8 186.6L1053.7 195.8L1059.5 192.8Z" fill="#7c7c7c"/><path d="M1059.8 186.6L1059.5 192.8L1065.3 195.8Z" fill="#f4f4f4" stroke="#b4b4c8" stroke-width="0.7"/><path d="M19.0 184.6L18.8 177.6L13.3 175.4Z" fill="#f4f4f4" stroke="#b4b4c8" stroke-width="0.7"/><path d="M19.0 184.6L24.9 175.4L18.8 177.6Z" fill="#7c7c7c"/><path d="M83.0 132.1L82.8 125.1L77.3 122.9Z" fill="#f4f4f4" stroke="#b4b4c8" stroke-width="0.7"/><path d="M83.0 132.1L88.9 122.9L82.8 125.1Z" fill="#7c7c7c"/><path d="M115.0 171.6L114.8 164.6L109.3 162.4Z" fill="#f4f4f4" stroke="#b4b4c8" stroke-width="0.7"/><path d="M115.0 171.6L120.9 162.4L114.8 164.6Z" fill="#7c7c7c"/><path d="M171.0 252.6L170.8 245.6L165.3 243.4Z" fill="#f4f4f4" stroke="#b4b4c8" stroke-width="0.7"/><path d="M171.0 252.6L176.9 243.4L170.8 245.6Z" fill="#7c7c7c"/><path d="M203.0 283.6L202.8 276.6L197.3 274.4Z" fill="#f4f4f4" stroke="#b4b4c8" stroke-width="0.7"/><path d="M203.0 283.6L208.9 274.4L202.8 276.6Z" fill="#7c7c7c"/><path d="M315.0 433.4L314.8 426.4L309.3 424.2Z" fill="#f4f4f4" stroke="#b4b4c8" stroke-width="0.7"/><path d="M315.0 433.4L320.9 424.2L314.8 426.4Z" fill="#7c7c7c"/><path d="M347.0 393.5L346.8 386.5L341.3 384.3Z" fill="#f4f4f4" stroke="#b4b4c8" stroke-width="0.7"/><path d="M347.0 393.5L352.9 384.3L346.8 386.5Z" fill="#7c7c7c"/><path d="M427.0 290.1L426.8 283.1L421.3 280.9Z" fill="#f4f4f4" stroke="#b4b4c8" stroke-width="0.7"/><path d="M427.0 290.1L432.9 280.9L426.8 283.1Z" fill="#7c7c7c"/><path d="M459.0 268.6L458.8 261.6L453.3 259.4Z" fill="#f4f4f4" stroke="#b4b4c8" stroke-width="0.7"/><path d="M459.0 268.6L464.9 259.4L458.8 261.6Z" fill="#7c7c7c"/><path d="M507.0 245.1L506.8 238.1L501.3 235.9Z" fill="#f4f4f4" stroke="#b4b4c8" stroke-width="0.7"/><path d="M507.0 245.1L512.9 235.9L506.8 238.1Z" fill="#7c7c7c"/><path d="M539.0 261.6L538.8 254.6L533.3 252.4Z" fill="#f4f4f4" stroke="#b4b4c8" stroke-width="0.7"/><path d="M539.0 261.6L544.9 252.4L538.8 254.6Z" fill="#7c7c7c"/><path d="M595.0 240.1L594.8 233.1L589.3 230.9Z" fill="#f4f4f4" stroke="#b4b4c8" stroke-width="0.7"/><path d="M595.0 240.1L600.9 230.9L594.8 233.1Z" fill="#7c7c7c"/><path d="M627.0 254.6L626.8 247.6L621.3 245.4Z" fill="#f4f4f4" stroke="#b4b4c8" stroke-width="0.7"/><path d="M627.0 254.6L632.9 245.4L626.8 247.6Z" fill="#7c7c7c"/><path d="M683.0 288.6L682.8 281.6L677.3 279.4Z" fill="#f4f4f4" stroke="#b4b4c8" stroke-width="0.7"/><path d="M683.0 288.6L688.9 279.4L682.8 281.6Z" fill="#7c7c7c"/><path d="M779.0 136.6L778.8 129.6L773.3 127.4Z" fill="#f4f4f4" stroke="#b4b4c8" stroke-width="0.7"/><path d="M779.0 136.6L784.9 127.4L778.8 129.6Z" fill="#7c7c7c"/><path d="M811.0 202.1L810.8 195.1L805.3 192.9Z" fill="#f4f4f4" stroke="#b4b4c8" stroke-width="0.7"/><path d="M811.0 202.1L816.9 192.9L810.8 195.1Z" fill="#7c7c7c"/><path d="M899.0 98.6L898.8 91.6L893.3 89.4Z" fill="#f4f4f4" stroke="#b4b4c8" stroke-width="0.7"/><path d="M899.0 98.6L904.9 89.4L898.8 91.6Z" fill="#7c7c7c"/><path d="M947.0 188.1L946.8 181.1L941.3 178.9Z" fill="#f4f4f4" stroke="#b4b4c8" stroke-width="0.7"/><path d="M947.0 188.1L952.9 178.9L946.8 181.1Z" fill="#7c7c7c"/><path d="M1043.0 268.9L1042.8 261.9L1037.3 259.6Z" fill="#f4f4f4" stroke="#b4b4c8" stroke-width="0.7"/><path d="M1043.0 268.9L1048.9 259.6L1042.8 261.9Z" fill="#7c7c7c"/><path d="M1067.0 257.6L1066.8 250.6L1061.3 248.4Z" fill="#f4f4f4" stroke="#b4b4c8" stroke-width="0.7"/><path d="M1067.0 257.6L1072.9 248.4L1066.8 250.6Z" fill="#7c7c7c"/></g>
<path d="M1110.5 196.5H1117.5V207.5H1122L1113.8 215L1105.5 207.5H1110.5Z" fill="none" stroke="#ff2020" stroke-width="1" shape-rendering="geometricPrecision"/>
</g>
<rect x="2.5" y="2.5" width="1225" height="471" fill="none" stroke="#000" stroke-width="1"/><rect x="2.5" y="475.5" width="1225" height="100" fill="none" stroke="#000" stroke-width="1"/><rect x="2.5" y="577.5" width="1225" height="100" fill="none" stroke="#000" stroke-width="1"/><rect x="2.5" y="679.5" width="1225" height="100" fill="none" stroke="#000" stroke-width="1"/>
<g stroke="#000" stroke-width="1" fill="none"><path d="M1228 25.5H1232"/><path d="M1228 57.5H1232"/><path d="M1228 89.5H1232"/><path d="M1228 121.5H1232"/><path d="M1228 153.5H1232"/><path d="M1228 185.5H1232"/><path d="M1228 217.5H1232"/><path d="M1228 249.5H1232"/><path d="M1228 281.5H1232"/><path d="M1228 313.5H1232"/><path d="M1228 345.5H1232"/><path d="M1228 377.5H1232"/><path d="M1228 409.5H1232"/><path d="M1228 441.5H1232"/><path d="M1228 476.5H1232"/><path d="M1228 574.5H1232"/><path d="M1228 578.5H1232"/><path d="M1228 676.5H1232"/><path d="M1228 680.5H1232"/><path d="M1228 778.5H1232"/><path d="M2.5 780V784"/><path d="M66.5 780V784"/><path d="M130.5 780V784"/><path d="M194.5 780V784"/><path d="M258.5 780V784"/><path d="M322.5 780V784"/><path d="M386.5 780V784"/><path d="M450.5 780V784"/><path d="M514.5 780V784"/><path d="M578.5 780V784"/><path d="M642.5 780V784"/><path d="M706.5 780V784"/><path d="M770.5 780V784"/><path d="M834.5 780V784"/><path d="M898.5 780V784"/><path d="M962.5 780V784"/><path d="M1026.5 780V784"/><path d="M1090.5 780V784"/></g>
<g font-family="'Liberation Sans', Arial, sans-serif" font-size="9.6" fill="#000" stroke="#000" stroke-width="0.12" shape-rendering="geometricPrecision"><text x="1233" y="28.5" textLength="32.1" lengthAdjust="spacingAndGlyphs">4072.60</text><text x="1233" y="60.5" textLength="32.1" lengthAdjust="spacingAndGlyphs">4040.20</text><text x="1233" y="92.5" textLength="32.1" lengthAdjust="spacingAndGlyphs">4007.80</text><text x="1233" y="124.5" textLength="32.1" lengthAdjust="spacingAndGlyphs">3975.40</text><text x="1233" y="156.5" textLength="32.1" lengthAdjust="spacingAndGlyphs">3943.00</text><text x="1233" y="188.5" textLength="32.1" lengthAdjust="spacingAndGlyphs">3910.60</text><text x="1233" y="220.5" textLength="32.1" lengthAdjust="spacingAndGlyphs">3878.20</text><text x="1233" y="252.5" textLength="32.1" lengthAdjust="spacingAndGlyphs">3845.80</text><text x="1233" y="284.5" textLength="32.1" lengthAdjust="spacingAndGlyphs">3813.40</text><text x="1233" y="316.5" textLength="32.1" lengthAdjust="spacingAndGlyphs">3781.00</text><text x="1233" y="348.5" textLength="32.1" lengthAdjust="spacingAndGlyphs">3748.60</text><text x="1233" y="380.5" textLength="32.1" lengthAdjust="spacingAndGlyphs">3716.20</text><text x="1233" y="412.5" textLength="32.1" lengthAdjust="spacingAndGlyphs">3683.80</text><text x="1233" y="444.5" textLength="32.1" lengthAdjust="spacingAndGlyphs">3651.40</text><text x="1233" y="484" textLength="32.1" lengthAdjust="spacingAndGlyphs">130.781</text><text x="1233" y="516.5" textLength="22.2" lengthAdjust="spacingAndGlyphs">0.000</text><text x="1233" y="573" textLength="35.1" lengthAdjust="spacingAndGlyphs">-207.899</text><text x="1233" y="586" textLength="32.1" lengthAdjust="spacingAndGlyphs">46.5362</text><text x="1233" y="619.5" textLength="27.2" lengthAdjust="spacingAndGlyphs">0.0000</text><text x="1233" y="675" textLength="35.1" lengthAdjust="spacingAndGlyphs">-71.1493</text><text x="1233" y="688" textLength="27.2" lengthAdjust="spacingAndGlyphs">99.728</text><text x="1233" y="733.5" textLength="22.2" lengthAdjust="spacingAndGlyphs">0.000</text><text x="1233" y="777" textLength="30.1" lengthAdjust="spacingAndGlyphs">-91.959</text><text x="3" y="792" textLength="49.6" lengthAdjust="spacingAndGlyphs">15 Oct 2025</text><text x="67" y="792" textLength="52.2" lengthAdjust="spacingAndGlyphs">16 Oct 06:00</text><text x="131" y="792" textLength="52.2" lengthAdjust="spacingAndGlyphs">16 Oct 14:00</text><text x="195" y="792" textLength="52.2" lengthAdjust="spacingAndGlyphs">16 Oct 22:00</text><text x="259" y="792" textLength="52.2" lengthAdjust="spacingAndGlyphs">17 Oct 06:00</text><text x="323" y="792" textLength="52.2" lengthAdjust="spacingAndGlyphs">17 Oct 14:00</text><text x="387" y="792" textLength="52.2" lengthAdjust="spacingAndGlyphs">17 Oct 22:00</text><text x="451" y="792" textLength="52.2" lengthAdjust="spacingAndGlyphs">18 Oct 06:00</text><text x="515" y="792" textLength="52.2" lengthAdjust="spacingAndGlyphs">18 Oct 14:00</text><text x="579" y="792" textLength="52.2" lengthAdjust="spacingAndGlyphs">18 Oct 22:00</text><text x="643" y="792" textLength="52.2" lengthAdjust="spacingAndGlyphs">19 Oct 06:00</text><text x="707" y="792" textLength="52.2" lengthAdjust="spacingAndGlyphs">19 Oct 14:00</text><text x="771" y="792" textLength="52.2" lengthAdjust="spacingAndGlyphs">19 Oct 22:00</text><text x="835" y="792" textLength="52.2" lengthAdjust="spacingAndGlyphs">20 Oct 06:00</text><text x="899" y="792" textLength="52.2" lengthAdjust="spacingAndGlyphs">20 Oct 14:00</text><text x="963" y="792" textLength="52.2" lengthAdjust="spacingAndGlyphs">20 Oct 22:00</text><text x="1027" y="792" textLength="52.2" lengthAdjust="spacingAndGlyphs">21 Oct 06:00</text><text x="1091" y="792" textLength="52.2" lengthAdjust="spacingAndGlyphs">21 Oct 14:00</text><text x="6" y="488" textLength="63.9" lengthAdjust="spacingAndGlyphs">AOcust -90.139</text><text x="6" y="590" textLength="60.4" lengthAdjust="spacingAndGlyphs">ACcust 8.1889</text><text x="6" y="692" textLength="106.4" lengthAdjust="spacingAndGlyphs">GatorCust 30.517 -20.365</text></g>
<rect x="1230" y="187" width="39" height="11" fill="#c80000"/>
<text x="1232.5" y="196" font-family="'Liberation Sans', Arial, sans-serif" font-size="9.6" fill="#fff" textLength="32.1" lengthAdjust="spacingAndGlyphs">3903.21</text>
</svg></body></html>
